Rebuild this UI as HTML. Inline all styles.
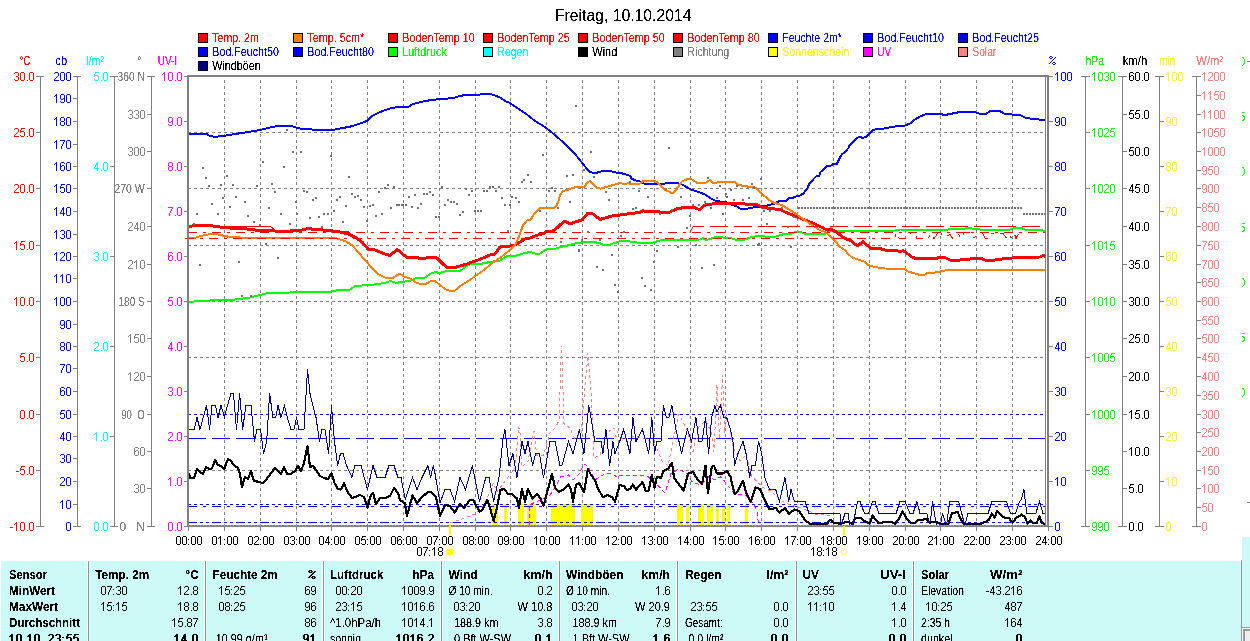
<!DOCTYPE html>
<html><head><meta charset="utf-8"><title>Freitag, 10.10.2014</title>
<style>html,body{margin:0;padding:0;background:#fff;overflow:hidden}svg{display:block}text{font-family:"Liberation Sans",sans-serif;white-space:pre}</style>
</head><body>
<svg width="1250" height="641" viewBox="0 0 1250 641" font-family="Liberation Sans, sans-serif" font-size="12" shape-rendering="crispEdges">
<rect width="1250" height="641" fill="#fff"/>
<defs><filter id="cr" x="0" y="0" width="100%" height="100%" filterUnits="userSpaceOnUse" color-interpolation-filters="sRGB"><feComponentTransfer><feFuncA type="linear" slope="6" intercept="-2.0"/></feComponentTransfer></filter><path id="g0" d="M1 0h3v1h-3zM0 1h1v1h-1zM4 1h1v1h-1zM0 2h1v1h-1zM4 2h1v1h-1zM0 3h1v1h-1zM4 3h1v1h-1zM0 4h1v1h-1zM4 4h1v1h-1zM0 5h1v1h-1zM4 5h1v1h-1zM0 6h1v1h-1zM4 6h1v1h-1zM0 7h1v1h-1zM4 7h1v1h-1zM1 8h3v1h-3z"/><path id="b0" d="M1 0h4v1h-4zM0 1h2v1h-2zM4 1h2v1h-2zM0 2h2v1h-2zM4 2h2v1h-2zM0 3h2v1h-2zM4 3h2v1h-2zM0 4h2v1h-2zM4 4h2v1h-2zM0 5h2v1h-2zM4 5h2v1h-2zM0 6h2v1h-2zM4 6h2v1h-2zM0 7h2v1h-2zM4 7h2v1h-2zM1 8h4v1h-4z"/><path id="g1" d="M2 0h1v1h-1zM1 1h2v1h-2zM0 2h1v1h-1zM2 2h1v1h-1zM2 3h1v1h-1zM2 4h1v1h-1zM2 5h1v1h-1zM2 6h1v1h-1zM2 7h1v1h-1zM2 8h1v1h-1z"/><path id="b1" d="M2 0h2v1h-2zM1 1h3v1h-3zM0 2h4v1h-4zM2 3h2v1h-2zM2 4h2v1h-2zM2 5h2v1h-2zM2 6h2v1h-2zM2 7h2v1h-2zM2 8h2v1h-2z"/><path id="g2" d="M1 0h3v1h-3zM0 1h1v1h-1zM4 1h1v1h-1zM4 2h1v1h-1zM4 3h1v1h-1zM3 4h1v1h-1zM2 5h1v1h-1zM1 6h1v1h-1zM0 7h1v1h-1zM0 8h5v1h-5z"/><path id="b2" d="M1 0h4v1h-4zM0 1h2v1h-2zM4 1h2v1h-2zM4 2h2v1h-2zM4 3h2v1h-2zM3 4h2v1h-2zM2 5h2v1h-2zM1 6h2v1h-2zM0 7h2v1h-2zM0 8h6v1h-6z"/><path id="g3" d="M1 0h3v1h-3zM0 1h1v1h-1zM4 1h1v1h-1zM4 2h1v1h-1zM4 3h1v1h-1zM2 4h2v1h-2zM4 5h1v1h-1zM4 6h1v1h-1zM0 7h1v1h-1zM4 7h1v1h-1zM1 8h3v1h-3z"/><path id="b3" d="M1 0h4v1h-4zM0 1h2v1h-2zM4 1h2v1h-2zM4 2h2v1h-2zM4 3h2v1h-2zM2 4h3v1h-3zM4 5h2v1h-2zM4 6h2v1h-2zM0 7h2v1h-2zM4 7h2v1h-2zM1 8h4v1h-4z"/><path id="g4" d="M3 0h1v1h-1zM2 1h2v1h-2zM2 2h2v1h-2zM1 3h1v1h-1zM3 3h1v1h-1zM1 4h1v1h-1zM3 4h1v1h-1zM0 5h1v1h-1zM3 5h1v1h-1zM0 6h5v1h-5zM3 7h1v1h-1zM3 8h1v1h-1z"/><path id="b4" d="M3 0h2v1h-2zM2 1h3v1h-3zM2 2h3v1h-3zM1 3h4v1h-4zM1 4h4v1h-4zM0 5h2v1h-2zM3 5h2v1h-2zM0 6h6v1h-6zM3 7h2v1h-2zM3 8h2v1h-2z"/><path id="g5" d="M1 0h4v1h-4zM1 1h1v1h-1zM0 2h1v1h-1zM0 3h4v1h-4zM0 4h1v1h-1zM4 4h1v1h-1zM4 5h1v1h-1zM4 6h1v1h-1zM0 7h1v1h-1zM4 7h1v1h-1zM1 8h3v1h-3z"/><path id="b5" d="M1 0h5v1h-5zM1 1h2v1h-2zM0 2h2v1h-2zM0 3h5v1h-5zM0 4h2v1h-2zM4 4h2v1h-2zM4 5h2v1h-2zM4 6h2v1h-2zM0 7h2v1h-2zM4 7h2v1h-2zM1 8h4v1h-4z"/><path id="g6" d="M1 0h3v1h-3zM0 1h1v1h-1zM4 1h1v1h-1zM0 2h1v1h-1zM0 3h1v1h-1zM2 3h2v1h-2zM0 4h2v1h-2zM4 4h1v1h-1zM0 5h1v1h-1zM4 5h1v1h-1zM0 6h1v1h-1zM4 6h1v1h-1zM0 7h1v1h-1zM4 7h1v1h-1zM1 8h3v1h-3z"/><path id="b6" d="M1 0h4v1h-4zM0 1h2v1h-2zM4 1h2v1h-2zM0 2h2v1h-2zM0 3h5v1h-5zM0 4h3v1h-3zM4 4h2v1h-2zM0 5h2v1h-2zM4 5h2v1h-2zM0 6h2v1h-2zM4 6h2v1h-2zM0 7h2v1h-2zM4 7h2v1h-2zM1 8h4v1h-4z"/><path id="g7" d="M0 0h5v1h-5zM4 1h1v1h-1zM3 2h1v1h-1zM3 3h1v1h-1zM2 4h1v1h-1zM2 5h1v1h-1zM1 6h1v1h-1zM1 7h1v1h-1zM1 8h1v1h-1z"/><path id="b7" d="M0 0h6v1h-6zM4 1h2v1h-2zM3 2h2v1h-2zM3 3h2v1h-2zM2 4h2v1h-2zM2 5h2v1h-2zM1 6h2v1h-2zM1 7h2v1h-2zM1 8h2v1h-2z"/><path id="g8" d="M1 0h3v1h-3zM0 1h1v1h-1zM4 1h1v1h-1zM0 2h1v1h-1zM4 2h1v1h-1zM0 3h1v1h-1zM4 3h1v1h-1zM1 4h3v1h-3zM0 5h1v1h-1zM4 5h1v1h-1zM0 6h1v1h-1zM4 6h1v1h-1zM0 7h1v1h-1zM4 7h1v1h-1zM1 8h3v1h-3z"/><path id="b8" d="M1 0h4v1h-4zM0 1h2v1h-2zM4 1h2v1h-2zM0 2h2v1h-2zM4 2h2v1h-2zM0 3h2v1h-2zM4 3h2v1h-2zM1 4h4v1h-4zM0 5h2v1h-2zM4 5h2v1h-2zM0 6h2v1h-2zM4 6h2v1h-2zM0 7h2v1h-2zM4 7h2v1h-2zM1 8h4v1h-4z"/><path id="g9" d="M1 0h3v1h-3zM0 1h1v1h-1zM4 1h1v1h-1zM0 2h1v1h-1zM4 2h1v1h-1zM0 3h1v1h-1zM4 3h1v1h-1zM0 4h1v1h-1zM3 4h2v1h-2zM1 5h2v1h-2zM4 5h1v1h-1zM4 6h1v1h-1zM0 7h1v1h-1zM4 7h1v1h-1zM1 8h3v1h-3z"/><path id="b9" d="M1 0h4v1h-4zM0 1h2v1h-2zM4 1h2v1h-2zM0 2h2v1h-2zM4 2h2v1h-2zM0 3h2v1h-2zM4 3h2v1h-2zM0 4h2v1h-2zM3 4h3v1h-3zM1 5h5v1h-5zM4 6h2v1h-2zM0 7h2v1h-2zM4 7h2v1h-2zM1 8h4v1h-4z"/><path id="gp" d="M1 8h1v1h-1z"/><path id="bp" d="M1 8h2v1h-2z"/><path id="gc" d="M0 3h1v1h-1zM0 8h1v1h-1z"/><path id="bc" d="M0 3h2v1h-2zM0 8h2v1h-2z"/><path id="gm" d="M0 5h3v1h-3z"/><path id="bm" d="M0 5h4v1h-4z"/><path id="gq" d="M1 0h2v1h-2zM0 1h1v1h-1zM3 1h1v1h-1zM6 1h1v1h-1zM1 2h2v1h-2zM5 2h1v1h-1zM4 3h1v1h-1zM3 4h1v1h-1zM2 5h1v1h-1zM1 6h1v1h-1zM4 6h2v1h-2zM0 7h1v1h-1zM3 7h1v1h-1zM6 7h1v1h-1zM4 8h2v1h-2z"/><path id="bq" d="M1 0h3v1h-3zM0 1h2v1h-2zM3 1h2v1h-2zM6 1h2v1h-2zM1 2h3v1h-3zM5 2h2v1h-2zM4 3h2v1h-2zM3 4h2v1h-2zM2 5h2v1h-2zM1 6h2v1h-2zM4 6h3v1h-3zM0 7h2v1h-2zM3 7h2v1h-2zM6 7h2v1h-2zM4 8h3v1h-3z"/></defs>
<rect x="198.5" y="33.5" width="9" height="9" fill="#f00" stroke="#000" stroke-width="1"/>
<rect x="293.5" y="33.5" width="9" height="9" fill="#ff8000" stroke="#000" stroke-width="1"/>
<rect x="388.5" y="33.5" width="9" height="9" fill="#f00" stroke="#000" stroke-width="1"/>
<rect x="483.5" y="33.5" width="9" height="9" fill="#f00" stroke="#000" stroke-width="1"/>
<rect x="578.5" y="33.5" width="9" height="9" fill="#f00" stroke="#000" stroke-width="1"/>
<rect x="673.5" y="33.5" width="9" height="9" fill="#f00" stroke="#000" stroke-width="1"/>
<rect x="768.5" y="33.5" width="9" height="9" fill="#00f" stroke="#000" stroke-width="1"/>
<rect x="863.5" y="33.5" width="9" height="9" fill="#00f" stroke="#000" stroke-width="1"/>
<rect x="958.5" y="33.5" width="9" height="9" fill="#00f" stroke="#000" stroke-width="1"/>
<rect x="198.5" y="47.5" width="9" height="9" fill="#00f" stroke="#000" stroke-width="1"/>
<rect x="293.5" y="47.5" width="9" height="9" fill="#00f" stroke="#000" stroke-width="1"/>
<rect x="388.5" y="47.5" width="9" height="9" fill="#0f0" stroke="#000" stroke-width="1"/>
<rect x="483.5" y="47.5" width="9" height="9" fill="#0ff" stroke="#000" stroke-width="1"/>
<rect x="578.5" y="47.5" width="9" height="9" fill="#000" stroke="#000" stroke-width="1"/>
<rect x="673.5" y="47.5" width="9" height="9" fill="#808080" stroke="#000" stroke-width="1"/>
<rect x="768.5" y="47.5" width="9" height="9" fill="#ff0" stroke="#000" stroke-width="1"/>
<rect x="863.5" y="47.5" width="9" height="9" fill="#f0f" stroke="#000" stroke-width="1"/>
<rect x="958.5" y="47.5" width="9" height="9" fill="#ff8080" stroke="#000" stroke-width="1"/>
<rect x="198.5" y="61.5" width="9" height="9" fill="#000080" stroke="#000" stroke-width="1"/>
<line x1="224.5" y1="80" x2="224.5" y2="525" stroke="#808080" stroke-width="1" stroke-dasharray="3 3"/>
<line x1="260.5" y1="80" x2="260.5" y2="525" stroke="#808080" stroke-width="1" stroke-dasharray="3 3"/>
<line x1="296.5" y1="80" x2="296.5" y2="525" stroke="#808080" stroke-width="1" stroke-dasharray="3 3"/>
<line x1="331.5" y1="80" x2="331.5" y2="525" stroke="#808080" stroke-width="1" stroke-dasharray="3 3"/>
<line x1="367.5" y1="80" x2="367.5" y2="525" stroke="#808080" stroke-width="1" stroke-dasharray="3 3"/>
<line x1="403.5" y1="80" x2="403.5" y2="525" stroke="#808080" stroke-width="1" stroke-dasharray="3 3"/>
<line x1="439.5" y1="80" x2="439.5" y2="525" stroke="#808080" stroke-width="1" stroke-dasharray="3 3"/>
<line x1="475.5" y1="80" x2="475.5" y2="525" stroke="#808080" stroke-width="1" stroke-dasharray="3 3"/>
<line x1="510.5" y1="80" x2="510.5" y2="525" stroke="#808080" stroke-width="1" stroke-dasharray="3 3"/>
<line x1="546.5" y1="80" x2="546.5" y2="525" stroke="#808080" stroke-width="1" stroke-dasharray="3 3"/>
<line x1="582.5" y1="80" x2="582.5" y2="525" stroke="#808080" stroke-width="1" stroke-dasharray="3 3"/>
<line x1="618.5" y1="80" x2="618.5" y2="525" stroke="#808080" stroke-width="1" stroke-dasharray="3 3"/>
<line x1="654.5" y1="80" x2="654.5" y2="525" stroke="#808080" stroke-width="1" stroke-dasharray="3 3"/>
<line x1="690.5" y1="80" x2="690.5" y2="525" stroke="#808080" stroke-width="1" stroke-dasharray="3 3"/>
<line x1="725.5" y1="80" x2="725.5" y2="525" stroke="#808080" stroke-width="1" stroke-dasharray="3 3"/>
<line x1="761.5" y1="80" x2="761.5" y2="525" stroke="#808080" stroke-width="1" stroke-dasharray="3 3"/>
<line x1="797.5" y1="80" x2="797.5" y2="525" stroke="#808080" stroke-width="1" stroke-dasharray="3 3"/>
<line x1="833.5" y1="80" x2="833.5" y2="525" stroke="#808080" stroke-width="1" stroke-dasharray="3 3"/>
<line x1="869.5" y1="80" x2="869.5" y2="525" stroke="#808080" stroke-width="1" stroke-dasharray="3 3"/>
<line x1="905.5" y1="80" x2="905.5" y2="525" stroke="#808080" stroke-width="1" stroke-dasharray="3 3"/>
<line x1="940.5" y1="80" x2="940.5" y2="525" stroke="#808080" stroke-width="1" stroke-dasharray="3 3"/>
<line x1="976.5" y1="80" x2="976.5" y2="525" stroke="#808080" stroke-width="1" stroke-dasharray="3 3"/>
<line x1="1012.5" y1="80" x2="1012.5" y2="525" stroke="#808080" stroke-width="1" stroke-dasharray="3 3"/>
<line x1="188" y1="132.5" x2="1045" y2="132.5" stroke="#808080" stroke-width="1" stroke-dasharray="3 3"/>
<line x1="188" y1="188.5" x2="1045" y2="188.5" stroke="#808080" stroke-width="1" stroke-dasharray="3 3"/>
<line x1="188" y1="245.5" x2="1045" y2="245.5" stroke="#808080" stroke-width="1" stroke-dasharray="3 3"/>
<line x1="188" y1="301.5" x2="1045" y2="301.5" stroke="#808080" stroke-width="1" stroke-dasharray="3 3"/>
<line x1="188" y1="357.5" x2="1045" y2="357.5" stroke="#808080" stroke-width="1" stroke-dasharray="3 3"/>
<line x1="188" y1="414.5" x2="1045" y2="414.5" stroke="#808080" stroke-width="1" stroke-dasharray="3 3"/>
<line x1="188" y1="470.5" x2="1045" y2="470.5" stroke="#808080" stroke-width="1" stroke-dasharray="3 3"/>
<rect x="492" y="504" width="6" height="22" fill="#ff0"/>
<rect x="504" y="504" width="3" height="22" fill="#ff0"/>
<rect x="518" y="504" width="6" height="22" fill="#ff0"/>
<rect x="527" y="504" width="9" height="22" fill="#ff0"/>
<rect x="551" y="504" width="24" height="22" fill="#ff0"/>
<rect x="581" y="504" width="12" height="22" fill="#ff0"/>
<rect x="677" y="504" width="6" height="22" fill="#ff0"/>
<rect x="686" y="504" width="3" height="22" fill="#ff0"/>
<rect x="698" y="504" width="6" height="22" fill="#ff0"/>
<rect x="707" y="504" width="6" height="22" fill="#ff0"/>
<rect x="716" y="504" width="3" height="22" fill="#ff0"/>
<rect x="722" y="504" width="3" height="22" fill="#ff0"/>
<rect x="727" y="504" width="3" height="22" fill="#ff0"/>
<rect x="745" y="504" width="3" height="22" fill="#ff0"/>
<polyline points="189.0,134.0 206.5,134.0 210.0,136.0 215.0,136.8 222.0,136.2 232.0,134.5 245.0,132.5 260.0,130.0 268.0,128.0 275.0,126.5 283.0,125.8 292.0,126.0 297.0,128.0 303.0,129.0 315.0,129.7 332.0,130.0 340.0,128.5 350.0,126.7 360.0,123.5 367.0,121.0 372.0,116.0 378.0,113.0 385.0,110.0 392.0,108.0 398.0,107.0 409.0,106.5 413.0,104.0 419.0,102.5 425.0,101.0 432.0,100.0 440.0,99.0 448.0,98.5 455.0,97.5 460.0,96.0 465.0,95.0 472.0,94.8 480.0,94.5 485.0,93.9 490.0,93.7 495.0,95.5 500.0,97.5 505.0,101.0 510.0,103.0 515.0,106.5 520.0,110.0 525.0,113.0 530.0,117.0 535.0,121.0 540.0,124.0 545.0,127.0 550.0,131.0 555.0,135.0 560.0,139.5 565.0,144.0 570.0,149.0 575.0,154.0 579.0,159.0 583.0,164.0 587.0,169.0 590.0,172.0 595.0,173.5 599.0,172.0 603.0,171.0 608.0,171.0 612.0,171.5 615.0,172.4 620.0,173.0 625.0,174.0 630.0,176.0 632.0,179.0 636.0,180.5 640.0,181.5 645.0,184.0 652.0,184.3 660.0,184.5 668.0,183.0 678.0,183.0 683.0,185.0 690.0,189.0 695.0,191.0 700.0,192.5 706.0,195.0 710.0,198.0 715.0,200.5 720.0,201.5 727.0,202.5 732.0,205.0 737.0,206.5 740.0,208.5 748.0,208.5 755.0,207.0 765.0,206.0 775.0,203.5 780.0,200.7 786.7,200.7 788.0,198.5 792.6,198.2 794.8,196.7 799.3,195.9 803.7,193.3 807.4,188.0 808.9,184.4 814.0,178.5 816.3,176.3 819.3,175.6 820.0,172.6 826.7,166.0 831.0,165.6 833.3,164.0 837.0,163.7 841.5,154.8 845.0,151.9 849.0,147.4 849.6,145.0 858.5,137.0 860.7,137.0 862.2,138.0 866.0,137.0 872.6,130.4 876.3,129.2 883.7,128.6 886.0,127.7 890.4,127.4 892.6,126.7 900.0,126.0 905.0,125.5 910.0,123.5 915.0,119.5 920.0,116.5 925.0,114.5 930.0,114.0 940.0,114.0 945.0,115.0 950.0,114.0 955.0,113.0 960.0,112.0 968.0,112.0 975.0,112.0 980.0,114.0 985.0,114.5 988.0,112.5 990.0,111.0 995.0,110.5 1000.0,111.0 1003.0,113.0 1005.0,114.0 1012.0,114.5 1018.0,114.5 1022.0,116.0 1025.0,117.5 1030.0,118.5 1035.0,119.0 1040.0,119.7 1046.0,120.0" fill="none" stroke="#00f" stroke-width="2" stroke-linejoin="round"/>
<line x1="188" y1="414.5" x2="1045" y2="414.5" stroke="#00f" stroke-width="1" stroke-dasharray="3 3"/>
<line x1="188" y1="438.5" x2="1045" y2="438.5" stroke="#00f" stroke-width="1" stroke-dasharray="18 6"/>
<line x1="188" y1="504.5" x2="1045" y2="504.5" stroke="#00f" stroke-width="1" stroke-dasharray="3 3"/>
<line x1="188" y1="506.5" x2="1045" y2="506.5" stroke="#00f" stroke-width="1" stroke-dasharray="9 6 3 6"/>
<line x1="188" y1="522.5" x2="1045" y2="522.5" stroke="#00f" stroke-width="1" stroke-dasharray="9 3 3 3 3 3"/>
<polyline points="189.0,302.0 200.0,301.0 210.0,300.5 230.0,300.0 240.0,299.0 250.0,297.5 260.0,295.0 268.0,293.0 290.0,292.5 330.0,292.0 340.0,289.5 350.0,289.5 355.0,286.0 370.0,285.0 385.0,283.0 390.0,281.0 397.0,283.0 400.0,282.0 410.0,281.0 415.0,278.5 425.0,277.5 430.0,274.0 435.0,272.0 440.0,273.0 445.0,271.5 460.0,271.0 465.0,267.0 470.0,264.5 480.0,264.0 490.0,262.0 500.0,260.5 505.0,257.0 510.0,255.5 515.0,256.0 520.0,254.5 525.0,253.0 530.0,252.0 535.0,253.5 540.0,253.5 545.0,250.0 550.0,248.5 555.0,249.0 560.0,247.0 570.0,245.0 575.0,243.5 580.0,243.0 585.0,241.5 595.0,241.5 598.0,243.5 600.0,243.0 603.0,245.0 610.0,244.5 615.0,243.0 622.0,240.5 630.0,241.5 640.0,243.0 650.0,243.5 655.0,242.0 660.0,240.5 680.0,240.0 700.0,239.5 703.0,238.0 706.0,240.0 710.0,239.0 716.0,237.0 730.0,238.0 735.0,239.5 745.0,239.5 750.0,237.5 757.0,236.0 765.0,236.5 775.0,237.0 780.0,235.0 785.0,234.0 790.0,234.5 795.0,232.0 800.0,231.5 805.0,234.0 825.0,234.0 830.0,231.0 850.0,231.0 895.0,230.5 900.0,229.5 945.0,230.5 950.0,229.0 965.0,228.5 967.0,227.5 975.0,229.0 990.0,230.5 1000.0,230.0 1010.0,229.5 1015.0,228.0 1020.0,227.5 1025.0,229.5 1040.0,230.0 1046.0,231.0" fill="none" stroke="#0f0" stroke-width="2" stroke-linejoin="round"/>
<polyline points="225.0,226.5 270.0,226.5 274.0,229.0" fill="none" stroke="#f00" stroke-width="1" />
<polyline points="330.0,231.5 348.0,231.5 353.0,237.0" fill="none" stroke="#f00" stroke-width="1" />
<polyline points="189.0,226.2 200.0,225.5 210.0,225.5 220.0,227.0 230.0,228.0 240.0,228.0 250.0,229.5 260.0,230.5 275.0,231.0 290.0,231.0 300.0,230.5 308.0,228.5 315.0,229.5 330.0,230.5 340.0,232.0 348.0,234.0 355.0,237.0 362.0,242.0 368.0,249.0 375.0,250.0 380.0,252.0 385.0,254.0 390.0,255.5 397.0,249.5 400.0,251.5 405.0,256.0 408.0,258.0 415.0,257.0 422.0,259.0 430.0,257.0 437.0,258.0 443.0,264.0 448.0,268.0 455.0,267.5 460.0,266.0 467.0,264.0 472.0,262.0 478.0,260.0 483.0,258.0 490.0,255.0 495.0,254.0 500.0,247.0 505.0,246.5 510.0,246.0 515.0,245.0 520.0,242.0 525.0,239.0 530.0,238.0 535.0,236.0 540.0,234.5 545.0,233.0 546.0,231.0 553.0,231.0 557.0,228.0 560.0,225.0 565.0,221.0 570.0,224.0 575.0,222.0 582.0,220.0 588.0,213.0 593.0,214.0 597.0,217.0 600.0,219.5 605.0,218.0 612.0,216.0 615.0,215.5 620.0,215.0 630.0,213.5 640.0,212.5 643.0,210.5 646.0,212.0 655.0,211.0 660.0,212.0 668.0,213.0 672.0,211.0 678.0,208.5 685.0,207.5 693.0,207.0 698.0,209.0 700.0,209.5 705.0,205.0 712.0,204.0 725.0,203.0 735.0,203.5 745.0,204.0 757.0,204.5 762.0,207.0 770.0,208.5 780.0,209.5 785.0,212.0 790.0,214.0 795.0,216.0 805.0,220.0 815.0,224.0 825.0,229.0 830.0,229.0 835.0,231.0 840.0,235.0 845.0,238.5 850.0,240.0 855.0,244.5 858.0,245.5 863.0,241.5 868.0,246.0 872.0,249.0 880.0,248.5 885.0,250.0 890.0,250.5 897.0,250.5 900.0,252.0 903.0,250.5 908.0,254.0 912.0,257.0 917.0,259.0 925.0,258.5 935.0,259.0 940.0,257.0 945.0,257.5 950.0,260.0 960.0,260.0 965.0,259.5 975.0,258.5 980.0,258.0 985.0,260.0 995.0,260.0 1005.0,258.5 1020.0,257.5 1040.0,257.0 1043.0,255.5 1046.0,256.5" fill="none" stroke="#f00" stroke-width="3" stroke-linejoin="round"/>
<polyline points="189.0,238.5 195.0,238.0 200.0,236.0 208.0,234.5 213.0,233.5 220.0,235.0 230.0,237.0 240.0,237.5 330.0,237.5 337.0,238.5 345.0,241.0 352.0,245.0 358.0,252.0 365.0,260.0 372.0,268.0 378.0,274.0 385.0,277.5 392.0,278.5 397.0,275.0 400.0,274.0 405.0,277.0 410.0,278.5 415.0,282.0 420.0,284.0 425.0,284.5 430.0,281.5 435.0,281.0 440.0,285.0 445.0,289.0 450.0,291.0 455.0,290.5 460.0,286.0 465.0,283.0 470.0,280.0 475.0,276.0 480.0,273.0 485.0,269.0 490.0,265.0 495.0,261.0 500.0,258.0 505.0,254.0 510.0,250.0 515.0,245.0 518.0,239.0 521.0,231.0 523.0,225.0 527.0,220.5 531.0,219.5 534.0,214.0 539.5,208.4 555.0,207.5 558.0,203.0 560.0,195.0 563.0,191.0 568.5,189.6 574.0,187.4 584.5,187.0 587.0,182.7 590.0,180.8 593.0,183.6 595.7,187.0 600.4,188.7 606.0,187.0 613.5,185.0 615.0,184.5 620.0,183.0 625.0,184.5 628.0,183.0 632.0,184.5 640.0,183.5 643.0,181.0 655.0,181.0 658.0,183.0 662.0,187.0 665.0,190.0 670.0,192.0 672.0,193.5 676.0,190.0 678.0,187.0 680.0,184.0 682.0,181.5 685.0,180.0 690.0,178.5 693.0,180.0 697.0,183.0 705.0,183.0 710.0,180.0 713.0,183.0 717.0,182.5 735.0,182.0 738.0,185.0 745.0,186.0 750.0,187.0 755.0,187.5 758.0,190.0 762.0,194.0 768.0,199.0 772.0,202.0 778.0,204.0 782.0,205.0 788.0,209.0 795.0,213.0 800.0,217.0 805.0,220.0 810.0,224.0 815.0,227.0 820.0,230.0 825.0,232.0 830.0,236.0 835.0,241.0 840.0,247.0 845.0,250.0 848.0,254.0 853.0,258.0 860.0,260.0 865.0,262.0 868.0,265.0 875.0,267.0 885.0,268.5 905.0,269.0 908.0,271.5 915.0,273.5 920.0,275.0 925.0,274.5 928.0,272.5 932.0,273.5 937.0,272.0 945.0,270.5 947.0,270.0 1046.0,270.0" fill="none" stroke="#ff8000" stroke-width="2" stroke-linejoin="round"/>
<line x1="188" y1="232.5" x2="1045" y2="232.5" stroke="#f00" stroke-width="1" stroke-dasharray="9 6 3 6"/>
<polyline points="185.0,238.5 894.6,238.5 896.5,232.8 899.3,238.5 908.0,238.5 910.5,232.8 914.3,232.8 917.0,238.5 928.0,238.5 931.0,233.5 934.0,238.5 937.7,233.3 939.5,237.4 941.4,234.0 944.0,237.4 950.0,234.6 952.6,238.4 955.5,234.6 959.0,235.0 961.0,238.4 964.0,232.8 972.0,232.8 974.0,237.4 982.6,233.3 985.4,238.4 988.0,238.4 991.0,233.3 1003.0,233.3 1006.0,237.4 1009.0,234.0 1011.6,238.4 1014.5,234.0 1016.0,238.4 1019.0,232.8" fill="none" stroke="#f00" stroke-width="1" stroke-dasharray="9 6 3 6"/>
<polyline points="690.0,232.5 693.0,226.5" fill="none" stroke="#f00" stroke-width="1" shape-rendering="auto"/>
<polyline points="827.0,232.5 831.5,226.5" fill="none" stroke="#f00" stroke-width="1" shape-rendering="auto"/>
<line x1="693" y1="226.5" x2="704" y2="226.5" stroke="#f00" stroke-width="1"/>
<line x1="710" y1="226.5" x2="1040" y2="226.5" stroke="#f00" stroke-width="1" stroke-dasharray="18 6"/>
<rect x="208" y="185" width="2" height="2" fill="#707070"/>
<rect x="256" y="185" width="2" height="2" fill="#707070"/>
<rect x="384" y="187" width="2" height="2" fill="#707070"/>
<rect x="393" y="186" width="2" height="2" fill="#707070"/>
<rect x="274" y="191" width="2" height="2" fill="#707070"/>
<rect x="303" y="190" width="2" height="2" fill="#707070"/>
<rect x="306" y="191" width="2" height="2" fill="#707070"/>
<rect x="378" y="191" width="2" height="2" fill="#707070"/>
<rect x="222" y="197" width="2" height="2" fill="#707070"/>
<rect x="235" y="196" width="2" height="2" fill="#707070"/>
<rect x="244" y="201" width="2" height="2" fill="#707070"/>
<rect x="211" y="203" width="2" height="2" fill="#707070"/>
<rect x="229" y="206" width="2" height="2" fill="#707070"/>
<rect x="268" y="207" width="2" height="2" fill="#707070"/>
<rect x="196" y="213" width="2" height="2" fill="#707070"/>
<rect x="217" y="213" width="2" height="2" fill="#707070"/>
<rect x="247" y="215" width="2" height="2" fill="#707070"/>
<rect x="280" y="213" width="2" height="2" fill="#707070"/>
<rect x="296" y="213" width="2" height="2" fill="#707070"/>
<rect x="295" y="201" width="2" height="2" fill="#707070"/>
<rect x="312" y="199" width="2" height="2" fill="#707070"/>
<rect x="315" y="197" width="2" height="2" fill="#707070"/>
<rect x="309" y="217" width="2" height="2" fill="#707070"/>
<rect x="318" y="216" width="2" height="2" fill="#707070"/>
<rect x="323" y="213" width="2" height="2" fill="#707070"/>
<rect x="327" y="213" width="2" height="2" fill="#707070"/>
<rect x="333" y="210" width="2" height="2" fill="#707070"/>
<rect x="336" y="199" width="2" height="2" fill="#707070"/>
<rect x="339" y="196" width="2" height="2" fill="#707070"/>
<rect x="345" y="205" width="2" height="2" fill="#707070"/>
<rect x="351" y="193" width="2" height="2" fill="#707070"/>
<rect x="354" y="196" width="2" height="2" fill="#707070"/>
<rect x="357" y="195" width="2" height="2" fill="#707070"/>
<rect x="360" y="199" width="2" height="2" fill="#707070"/>
<rect x="363" y="206" width="2" height="2" fill="#707070"/>
<rect x="369" y="205" width="2" height="2" fill="#707070"/>
<rect x="372" y="204" width="2" height="2" fill="#707070"/>
<rect x="375" y="215" width="2" height="2" fill="#707070"/>
<rect x="381" y="213" width="2" height="2" fill="#707070"/>
<rect x="390" y="207" width="2" height="2" fill="#707070"/>
<rect x="396" y="204" width="2" height="2" fill="#707070"/>
<rect x="398" y="204" width="2" height="2" fill="#707070"/>
<rect x="401" y="204" width="2" height="2" fill="#707070"/>
<rect x="366" y="220" width="2" height="2" fill="#707070"/>
<rect x="342" y="221" width="2" height="2" fill="#707070"/>
<rect x="321" y="226" width="2" height="2" fill="#707070"/>
<rect x="289" y="223" width="2" height="2" fill="#707070"/>
<rect x="253" y="221" width="2" height="2" fill="#707070"/>
<rect x="259" y="224" width="2" height="2" fill="#707070"/>
<rect x="193" y="223" width="2" height="2" fill="#707070"/>
<rect x="265" y="243" width="2" height="2" fill="#707070"/>
<rect x="277" y="257" width="2" height="2" fill="#707070"/>
<rect x="238" y="261" width="2" height="2" fill="#707070"/>
<rect x="199" y="264" width="2" height="2" fill="#707070"/>
<rect x="241" y="295" width="2" height="2" fill="#707070"/>
<rect x="250" y="295" width="2" height="2" fill="#707070"/>
<rect x="408" y="196" width="2" height="2" fill="#707070"/>
<rect x="414" y="194" width="2" height="2" fill="#707070"/>
<rect x="423" y="193" width="2" height="2" fill="#707070"/>
<rect x="426" y="193" width="2" height="2" fill="#707070"/>
<rect x="429" y="191" width="2" height="2" fill="#707070"/>
<rect x="432" y="194" width="2" height="2" fill="#707070"/>
<rect x="441" y="186" width="2" height="2" fill="#707070"/>
<rect x="402" y="204" width="2" height="2" fill="#707070"/>
<rect x="405" y="204" width="2" height="2" fill="#707070"/>
<rect x="411" y="206" width="2" height="2" fill="#707070"/>
<rect x="417" y="207" width="2" height="2" fill="#707070"/>
<rect x="420" y="203" width="2" height="2" fill="#707070"/>
<rect x="435" y="216" width="2" height="2" fill="#707070"/>
<rect x="438" y="216" width="2" height="2" fill="#707070"/>
<rect x="444" y="204" width="2" height="2" fill="#707070"/>
<rect x="447" y="199" width="2" height="2" fill="#707070"/>
<rect x="450" y="201" width="2" height="2" fill="#707070"/>
<rect x="453" y="201" width="2" height="2" fill="#707070"/>
<rect x="456" y="203" width="2" height="2" fill="#707070"/>
<rect x="459" y="214" width="2" height="2" fill="#707070"/>
<rect x="462" y="211" width="2" height="2" fill="#707070"/>
<rect x="465" y="188" width="2" height="2" fill="#707070"/>
<rect x="468" y="194" width="2" height="2" fill="#707070"/>
<rect x="471" y="190" width="2" height="2" fill="#707070"/>
<rect x="474" y="210" width="2" height="2" fill="#707070"/>
<rect x="477" y="210" width="2" height="2" fill="#707070"/>
<rect x="480" y="210" width="2" height="2" fill="#707070"/>
<rect x="483" y="190" width="2" height="2" fill="#707070"/>
<rect x="486" y="190" width="2" height="2" fill="#707070"/>
<rect x="489" y="186" width="2" height="2" fill="#707070"/>
<rect x="492" y="186" width="2" height="2" fill="#707070"/>
<rect x="495" y="190" width="2" height="2" fill="#707070"/>
<rect x="498" y="186" width="2" height="2" fill="#707070"/>
<rect x="501" y="197" width="2" height="2" fill="#707070"/>
<rect x="504" y="204" width="2" height="2" fill="#707070"/>
<rect x="507" y="230" width="2" height="2" fill="#707070"/>
<rect x="509" y="204" width="2" height="2" fill="#707070"/>
<rect x="511" y="196" width="2" height="2" fill="#707070"/>
<rect x="515" y="197" width="2" height="2" fill="#707070"/>
<rect x="518" y="201" width="2" height="2" fill="#707070"/>
<rect x="548" y="190" width="2" height="2" fill="#707070"/>
<rect x="551" y="187" width="2" height="2" fill="#707070"/>
<rect x="554" y="190" width="2" height="2" fill="#707070"/>
<rect x="557" y="207" width="2" height="2" fill="#707070"/>
<rect x="560" y="241" width="2" height="2" fill="#707070"/>
<rect x="569" y="201" width="2" height="2" fill="#707070"/>
<rect x="578" y="249" width="2" height="2" fill="#707070"/>
<rect x="581" y="239" width="2" height="2" fill="#707070"/>
<rect x="587" y="231" width="2" height="2" fill="#707070"/>
<rect x="596" y="266" width="2" height="2" fill="#707070"/>
<rect x="599" y="239" width="2" height="2" fill="#707070"/>
<rect x="602" y="269" width="2" height="2" fill="#707070"/>
<rect x="605" y="191" width="2" height="2" fill="#707070"/>
<rect x="608" y="199" width="2" height="2" fill="#707070"/>
<rect x="611" y="254" width="2" height="2" fill="#707070"/>
<rect x="614" y="284" width="2" height="2" fill="#707070"/>
<rect x="617" y="291" width="2" height="2" fill="#707070"/>
<rect x="539" y="210" width="2" height="2" fill="#707070"/>
<rect x="638" y="190" width="2" height="2" fill="#707070"/>
<rect x="647" y="196" width="2" height="2" fill="#707070"/>
<rect x="632" y="208" width="2" height="2" fill="#707070"/>
<rect x="635" y="207" width="2" height="2" fill="#707070"/>
<rect x="620" y="235" width="2" height="2" fill="#707070"/>
<rect x="623" y="231" width="2" height="2" fill="#707070"/>
<rect x="656" y="250" width="2" height="2" fill="#707070"/>
<rect x="653" y="261" width="2" height="2" fill="#707070"/>
<rect x="659" y="213" width="2" height="2" fill="#707070"/>
<rect x="665" y="188" width="2" height="2" fill="#707070"/>
<rect x="671" y="209" width="2" height="2" fill="#707070"/>
<rect x="680" y="196" width="2" height="2" fill="#707070"/>
<rect x="677" y="246" width="2" height="2" fill="#707070"/>
<rect x="686" y="227" width="2" height="2" fill="#707070"/>
<rect x="689" y="215" width="2" height="2" fill="#707070"/>
<rect x="692" y="204" width="2" height="2" fill="#707070"/>
<rect x="695" y="244" width="2" height="2" fill="#707070"/>
<rect x="698" y="204" width="2" height="2" fill="#707070"/>
<rect x="701" y="267" width="2" height="2" fill="#707070"/>
<rect x="704" y="201" width="2" height="2" fill="#707070"/>
<rect x="707" y="177" width="2" height="2" fill="#707070"/>
<rect x="710" y="207" width="2" height="2" fill="#707070"/>
<rect x="713" y="264" width="2" height="2" fill="#707070"/>
<rect x="716" y="197" width="2" height="2" fill="#707070"/>
<rect x="719" y="185" width="2" height="2" fill="#707070"/>
<rect x="722" y="213" width="2" height="2" fill="#707070"/>
<rect x="725" y="193" width="2" height="2" fill="#707070"/>
<rect x="726" y="196" width="2" height="2" fill="#707070"/>
<rect x="730" y="189" width="2" height="2" fill="#707070"/>
<rect x="733" y="199" width="2" height="2" fill="#707070"/>
<rect x="742" y="199" width="2" height="2" fill="#707070"/>
<rect x="748" y="197" width="2" height="2" fill="#707070"/>
<rect x="751" y="183" width="2" height="2" fill="#707070"/>
<rect x="753" y="186" width="2" height="2" fill="#707070"/>
<rect x="757" y="244" width="2" height="2" fill="#707070"/>
<rect x="760" y="178" width="2" height="2" fill="#707070"/>
<rect x="763" y="210" width="2" height="2" fill="#707070"/>
<rect x="766" y="223" width="2" height="2" fill="#707070"/>
<rect x="769" y="210" width="2" height="2" fill="#707070"/>
<rect x="781" y="207" width="2" height="2" fill="#707070"/>
<rect x="787" y="226" width="2" height="2" fill="#707070"/>
<rect x="790" y="246" width="2" height="2" fill="#707070"/>
<rect x="793" y="216" width="2" height="2" fill="#707070"/>
<rect x="560" y="241" width="2" height="2" fill="#707070"/>
<rect x="578" y="250" width="2" height="2" fill="#707070"/>
<rect x="596" y="266" width="2" height="2" fill="#707070"/>
<rect x="611" y="254" width="2" height="2" fill="#707070"/>
<rect x="641" y="277" width="2" height="2" fill="#707070"/>
<rect x="644" y="285" width="2" height="2" fill="#707070"/>
<rect x="650" y="289" width="2" height="2" fill="#707070"/>
<rect x="653" y="261" width="2" height="2" fill="#707070"/>
<rect x="656" y="250" width="2" height="2" fill="#707070"/>
<rect x="677" y="246" width="2" height="2" fill="#707070"/>
<rect x="701" y="267" width="2" height="2" fill="#707070"/>
<rect x="713" y="264" width="2" height="2" fill="#707070"/>
<rect x="758" y="243" width="2" height="2" fill="#707070"/>
<rect x="286" y="129" width="2" height="2" fill="#707070"/>
<rect x="292" y="151" width="2" height="2" fill="#707070"/>
<rect x="300" y="151" width="2" height="2" fill="#707070"/>
<rect x="330" y="155" width="2" height="2" fill="#707070"/>
<rect x="262" y="161" width="2" height="2" fill="#707070"/>
<rect x="283" y="166" width="2" height="2" fill="#707070"/>
<rect x="202" y="167" width="2" height="2" fill="#707070"/>
<rect x="205" y="177" width="2" height="2" fill="#707070"/>
<rect x="226" y="175" width="2" height="2" fill="#707070"/>
<rect x="220" y="184" width="2" height="2" fill="#707070"/>
<rect x="232" y="184" width="2" height="2" fill="#707070"/>
<rect x="271" y="183" width="2" height="2" fill="#707070"/>
<rect x="348" y="176" width="2" height="2" fill="#707070"/>
<rect x="387" y="184" width="2" height="2" fill="#707070"/>
<rect x="575" y="105" width="2" height="2" fill="#707070"/>
<rect x="590" y="151" width="2" height="2" fill="#707070"/>
<rect x="542" y="154" width="2" height="2" fill="#707070"/>
<rect x="527" y="174" width="2" height="2" fill="#707070"/>
<rect x="523" y="179" width="2" height="2" fill="#707070"/>
<rect x="521" y="181" width="2" height="2" fill="#707070"/>
<rect x="530" y="181" width="2" height="2" fill="#707070"/>
<rect x="566" y="175" width="2" height="2" fill="#707070"/>
<rect x="572" y="174" width="2" height="2" fill="#707070"/>
<rect x="583" y="169" width="2" height="2" fill="#707070"/>
<rect x="593" y="176" width="2" height="2" fill="#707070"/>
<rect x="668" y="147" width="2" height="2" fill="#707070"/>
<rect x="629" y="181" width="2" height="2" fill="#707070"/>
<rect x="736" y="185" width="2" height="2" fill="#707070"/>
<line x1="798" y1="208" x2="1022" y2="208" stroke="#707070" stroke-width="2" stroke-dasharray="2 1"/>
<line x1="1023" y1="214" x2="1045" y2="214" stroke="#707070" stroke-width="2" stroke-dasharray="2 1"/>
<polyline points="529.5,525.0 529.5,505.0 550.0,495.0 556.0,486.0 560.7,476.7 568.5,475.0 573.0,480.0 579.4,473.5 584.0,464.0 588.0,465.7 591.0,472.0 595.0,480.0 600.0,476.7 606.0,473.0 612.0,473.5 618.4,478.0 615.0,476.0 646.0,475.0 655.6,483.0 665.0,493.0 671.0,473.5 679.0,469.0 687.0,473.5 693.0,483.0 701.0,484.5 708.6,476.7 715.0,480.0 721.0,476.7 727.0,484.5 735.0,494.0 746.0,495.4 754.0,504.8 757.0,511.0 758.5,525.0" fill="none" stroke="#f0f" stroke-width="1" stroke-dasharray="4 3"/>
<polyline points="450.0,523.0 462.0,519.0 475.0,514.0 484.0,505.0 493.6,483.0 497.0,492.0 506.0,480.0 515.5,467.0 518.6,426.7 520.0,433.0 521.7,467.0 528.0,461.0 534.0,431.4 536.7,455.0 543.5,455.0 550.0,433.0 556.0,426.7 559.0,420.5 561.6,345.6 564.0,423.6 570.0,428.0 574.7,439.0 581.0,433.0 584.0,398.6 588.0,353.4 591.0,392.0 594.0,458.0 600.0,455.0 606.0,436.0 612.0,428.0 618.4,430.0 615.0,436.0 624.0,439.0 635.0,436.0 646.0,439.0 655.6,445.5 662.0,461.0 668.0,465.7 674.0,436.0 679.0,414.0 687.0,430.0 693.0,451.7 699.0,426.7 705.5,420.5 711.7,433.0 714.0,451.7 717.0,384.6 719.5,439.0 722.6,375.0 724.5,433.0 726.7,414.0 730.5,433.0 733.6,448.6 740.0,461.0 746.0,455.0 752.0,476.7 758.5,483.0 764.8,489.0 771.0,490.7 780.0,500.0 790.0,505.0 802.0,508.0 815.0,514.0 833.0,516.0" fill="none" stroke="#ff8080" stroke-width="1" stroke-dasharray="3 3"/>
<polyline points="189.0,472.7 190.0,478.0 194.0,478.0 197.0,469.0 200.0,472.0 203.0,474.0 206.0,467.0 209.0,469.0 212.0,468.5 215.0,460.0 218.0,465.0 221.0,466.0 224.0,469.5 228.0,459.0 231.0,461.0 234.5,466.0 238.0,468.0 240.0,474.0 242.0,487.0 245.0,477.0 248.0,479.0 251.0,471.0 254.0,481.0 260.0,482.0 263.0,483.5 266.0,480.0 272.0,472.0 275.0,468.0 278.0,471.0 281.0,474.0 284.0,467.0 287.0,474.0 291.0,474.0 295.0,471.0 298.0,466.0 301.0,471.0 304.0,463.0 307.5,446.0 310.0,467.0 313.0,466.0 316.0,470.0 320.0,476.0 324.0,478.0 328.0,479.0 331.5,473.0 334.5,483.0 338.0,489.0 341.0,489.5 344.0,483.0 347.0,491.0 352.0,498.0 355.0,497.0 360.0,495.0 364.0,497.0 367.5,508.0 370.0,497.0 373.0,493.0 376.0,504.0 380.0,498.0 385.0,498.0 390.0,496.0 394.0,488.0 398.0,493.0 400.0,500.0 404.7,503.0 407.0,515.7 412.5,495.4 417.0,503.0 422.0,497.0 428.0,492.0 431.0,492.0 436.0,497.0 440.0,516.0 445.0,504.8 450.0,506.0 454.6,512.5 460.0,504.0 464.0,508.0 470.0,500.0 473.0,500.0 479.6,511.6 482.7,509.4 487.4,500.0 490.5,509.4 493.6,521.0 496.7,509.0 500.5,489.8 504.5,489.0 507.7,493.8 512.0,493.8 517.0,498.5 519.0,508.0 522.0,489.0 525.0,501.6 528.0,489.0 532.6,498.5 537.0,493.8 540.4,498.5 543.5,506.0 548.0,489.0 552.0,474.0 555.0,487.6 559.0,492.0 564.0,489.0 568.5,484.5 571.0,489.0 573.0,501.6 576.0,484.5 579.4,483.0 584.0,492.0 588.0,469.0 591.0,475.0 595.0,480.0 598.0,489.0 603.0,497.0 607.5,495.0 612.0,497.0 615.0,501.6 619.7,485.0 623.7,486.0 627.0,489.8 630.0,489.0 633.0,484.5 636.0,489.8 639.0,486.0 642.5,482.0 645.6,490.7 648.7,490.7 651.8,475.0 654.6,487.6 657.0,476.7 661.0,478.0 663.4,471.0 668.0,469.0 672.0,462.6 674.0,478.0 679.0,484.5 683.6,490.7 688.0,473.5 693.0,472.0 697.7,479.8 702.0,484.5 705.5,465.7 708.0,493.0 711.7,467.0 714.0,465.7 717.0,473.5 722.6,473.5 727.0,471.0 730.5,476.7 734.5,494.0 738.0,490.7 743.0,481.0 746.0,492.0 750.7,501.6 755.4,487.6 760.0,489.0 764.8,500.0 769.5,509.4 775.7,508.0 779.5,512.5 785.0,508.0 788.8,514.0 794.4,509.4 799.0,511.0 805.0,520.0 810.0,524.0 827.0,524.0 830.0,519.6 834.0,522.7 840.0,523.7 848.0,521.7 852.0,523.7 856.0,517.6 860.0,517.6 865.5,521.7 869.5,523.7 872.6,515.6 875.6,519.6 878.7,523.3 886.8,521.7 890.8,521.7 895.0,523.7 899.0,518.6 902.6,511.5 906.0,517.6 911.0,522.7 915.0,522.7 918.0,519.6 922.0,520.0 926.3,518.6 929.4,522.7 935.4,521.7 940.5,524.0 948.6,523.7 951.7,513.5 957.7,512.0 960.8,519.6 963.8,524.0 980.0,524.0 986.0,521.7 989.0,519.6 992.0,513.5 994.6,517.6 997.3,511.0 1001.3,515.6 1004.4,517.6 1008.4,517.6 1012.5,522.7 1016.5,517.6 1021.6,514.6 1024.6,516.6 1027.7,523.7 1030.7,520.6 1033.8,523.3 1036.8,522.7 1039.4,516.6 1041.9,522.7 1045.0,524.0" fill="none" stroke="#000" stroke-width="2.2" stroke-linejoin="round"/>
<polyline points="189.0,429.5 194.3,429.5 197.0,417.5 200.0,429.5 206.5,405.5 209.6,429.5 212.0,405.5 215.5,405.5 218.0,417.5 221.0,405.5 224.5,417.5 227.5,405.5 231.0,393.5 233.5,393.5 236.5,429.5 239.6,393.5 242.6,429.5 246.0,405.5 251.0,405.5 254.5,441.5 257.0,429.5 260.6,429.5 263.5,453.5 266.7,441.5 269.6,393.5 273.0,417.5 275.7,417.5 278.0,405.5 281.0,417.5 284.5,405.5 288.0,420.0 291.0,429.5 294.0,429.5 296.6,417.5 299.0,429.5 304.0,429.5 307.5,369.5 310.0,393.5 316.0,417.5 319.5,441.5 322.0,429.5 325.0,429.5 328.6,453.5 331.5,405.5 334.5,441.5 337.6,465.5 340.5,453.5 343.0,453.5 346.5,465.5 352.0,477.5 355.0,465.5 361.0,465.5 367.5,489.5 373.0,465.5 377.0,477.5 385.0,477.5 389.0,465.5 394.0,465.5 398.0,477.5 401.0,477.5 405.3,499.0 412.5,477.5 417.0,489.5 422.0,477.5 428.0,465.5 430.6,477.5 433.4,465.5 435.0,473.5 440.0,503.0 445.0,489.5 450.0,489.5 454.6,501.5 460.0,477.5 465.5,489.5 472.4,465.5 479.6,501.5 485.8,477.5 489.0,477.5 493.6,501.5 499.0,477.5 503.0,438.0 505.0,429.5 509.0,465.5 513.0,453.5 517.0,477.5 522.0,441.5 525.0,453.5 528.0,441.5 532.6,465.5 535.7,453.5 539.5,453.5 543.5,477.5 550.0,441.5 555.0,441.5 560.0,465.5 562.0,465.5 568.5,441.5 573.0,453.5 579.4,429.5 584.0,453.5 588.8,405.5 593.0,429.5 595.0,441.5 601.0,441.5 603.0,453.5 606.0,429.5 609.7,465.5 613.0,441.5 615.0,453.5 619.7,441.5 623.7,429.5 627.0,441.5 630.0,453.5 633.0,417.5 636.0,441.5 639.0,436.0 642.5,429.5 645.6,441.5 648.7,453.5 651.8,417.5 654.6,453.5 657.0,441.5 661.0,441.5 663.4,405.5 666.5,417.5 669.0,417.5 672.0,405.5 675.9,429.5 679.0,441.5 681.5,453.5 687.4,429.5 691.5,441.5 696.0,417.5 699.0,441.5 702.0,441.5 705.5,417.5 708.6,453.5 711.7,417.5 714.9,405.5 717.0,412.0 720.5,405.5 723.6,417.5 726.7,417.5 730.5,429.5 733.0,441.5 734.5,465.5 738.0,453.5 743.0,441.5 746.0,453.5 749.8,477.5 752.0,465.5 755.4,465.5 758.5,441.5 761.7,453.5 764.8,477.5 769.5,489.5 775.7,489.5 779.5,501.5 785.0,477.5 788.8,501.5 791.0,489.5 794.4,501.5 805.0,501.5 809.0,513.5 840.0,513.5 841.0,525.5 845.0,513.5 848.0,513.5 850.0,525.5 853.0,525.5 857.4,501.5 860.0,501.5 864.5,513.5 868.5,513.5 872.6,501.5 875.0,501.5 878.7,513.5 896.0,513.5 900.0,501.5 905.0,501.5 910.0,513.5 913.0,513.5 917.0,501.5 920.0,513.5 927.0,513.5 928.7,521.6 930.5,521.6 932.4,501.5 936.5,525.5 940.5,525.5 942.5,513.5 946.6,525.5 949.6,501.5 958.7,501.5 964.8,525.5 967.9,513.5 988.0,513.5 992.0,501.5 1006.4,501.5 1010.5,513.5 1015.5,513.5 1019.6,501.5 1021.6,499.0 1024.0,489.5 1026.7,513.5 1035.8,513.5 1039.4,501.5 1043.0,513.5 1045.3,513.5" fill="none" stroke="#000080" stroke-width="1" />
<rect x="187" y="75" width="862" height="2" fill="#808080"/>
<rect x="187" y="75" width="2" height="452" fill="#808080"/>
<rect x="1045" y="76" width="1" height="451" fill="#808080"/>
<rect x="1047" y="76" width="2" height="451" fill="#808080"/>
<rect x="187" y="525" width="862" height="2" fill="#808080"/>
<line x1="188" y1="525.5" x2="1045" y2="525.5" stroke="#0ff" stroke-width="1" stroke-dasharray="1 2"/>
<rect x="188" y="527" width="1" height="4" fill="#808080"/>
<g fill="#000"><use href="#g0" x="176" y="536"/><use href="#g0" x="182" y="536"/><use href="#gc" x="188" y="536"/><use href="#g0" x="191" y="536"/><use href="#g0" x="197" y="536"/></g>
<rect x="224" y="527" width="1" height="4" fill="#808080"/>
<g fill="#000"><use href="#g0" x="212" y="536"/><use href="#g1" x="218" y="536"/><use href="#gc" x="224" y="536"/><use href="#g0" x="227" y="536"/><use href="#g0" x="233" y="536"/></g>
<rect x="260" y="527" width="1" height="4" fill="#808080"/>
<g fill="#000"><use href="#g0" x="248" y="536"/><use href="#g2" x="254" y="536"/><use href="#gc" x="260" y="536"/><use href="#g0" x="263" y="536"/><use href="#g0" x="269" y="536"/></g>
<rect x="296" y="527" width="1" height="4" fill="#808080"/>
<g fill="#000"><use href="#g0" x="284" y="536"/><use href="#g3" x="290" y="536"/><use href="#gc" x="296" y="536"/><use href="#g0" x="299" y="536"/><use href="#g0" x="305" y="536"/></g>
<rect x="331" y="527" width="1" height="4" fill="#808080"/>
<g fill="#000"><use href="#g0" x="319" y="536"/><use href="#g4" x="325" y="536"/><use href="#gc" x="331" y="536"/><use href="#g0" x="334" y="536"/><use href="#g0" x="340" y="536"/></g>
<rect x="367" y="527" width="1" height="4" fill="#808080"/>
<g fill="#000"><use href="#g0" x="355" y="536"/><use href="#g5" x="361" y="536"/><use href="#gc" x="367" y="536"/><use href="#g0" x="370" y="536"/><use href="#g0" x="376" y="536"/></g>
<rect x="403" y="527" width="1" height="4" fill="#808080"/>
<g fill="#000"><use href="#g0" x="391" y="536"/><use href="#g6" x="397" y="536"/><use href="#gc" x="403" y="536"/><use href="#g0" x="406" y="536"/><use href="#g0" x="412" y="536"/></g>
<rect x="439" y="527" width="1" height="4" fill="#808080"/>
<g fill="#000"><use href="#g0" x="427" y="536"/><use href="#g7" x="433" y="536"/><use href="#gc" x="439" y="536"/><use href="#g0" x="442" y="536"/><use href="#g0" x="448" y="536"/></g>
<rect x="475" y="527" width="1" height="4" fill="#808080"/>
<g fill="#000"><use href="#g0" x="463" y="536"/><use href="#g8" x="469" y="536"/><use href="#gc" x="475" y="536"/><use href="#g0" x="478" y="536"/><use href="#g0" x="484" y="536"/></g>
<rect x="510" y="527" width="1" height="4" fill="#808080"/>
<g fill="#000"><use href="#g0" x="498" y="536"/><use href="#g9" x="504" y="536"/><use href="#gc" x="510" y="536"/><use href="#g0" x="513" y="536"/><use href="#g0" x="519" y="536"/></g>
<rect x="546" y="527" width="1" height="4" fill="#808080"/>
<g fill="#000"><use href="#g1" x="534" y="536"/><use href="#g0" x="540" y="536"/><use href="#gc" x="546" y="536"/><use href="#g0" x="549" y="536"/><use href="#g0" x="555" y="536"/></g>
<rect x="582" y="527" width="1" height="4" fill="#808080"/>
<g fill="#000"><use href="#g1" x="570" y="536"/><use href="#g1" x="576" y="536"/><use href="#gc" x="582" y="536"/><use href="#g0" x="585" y="536"/><use href="#g0" x="591" y="536"/></g>
<rect x="618" y="527" width="1" height="4" fill="#808080"/>
<g fill="#000"><use href="#g1" x="606" y="536"/><use href="#g2" x="612" y="536"/><use href="#gc" x="618" y="536"/><use href="#g0" x="621" y="536"/><use href="#g0" x="627" y="536"/></g>
<rect x="654" y="527" width="1" height="4" fill="#808080"/>
<g fill="#000"><use href="#g1" x="642" y="536"/><use href="#g3" x="648" y="536"/><use href="#gc" x="654" y="536"/><use href="#g0" x="657" y="536"/><use href="#g0" x="663" y="536"/></g>
<rect x="690" y="527" width="1" height="4" fill="#808080"/>
<g fill="#000"><use href="#g1" x="678" y="536"/><use href="#g4" x="684" y="536"/><use href="#gc" x="690" y="536"/><use href="#g0" x="693" y="536"/><use href="#g0" x="699" y="536"/></g>
<rect x="725" y="527" width="1" height="4" fill="#808080"/>
<g fill="#000"><use href="#g1" x="713" y="536"/><use href="#g5" x="719" y="536"/><use href="#gc" x="725" y="536"/><use href="#g0" x="728" y="536"/><use href="#g0" x="734" y="536"/></g>
<rect x="761" y="527" width="1" height="4" fill="#808080"/>
<g fill="#000"><use href="#g1" x="749" y="536"/><use href="#g6" x="755" y="536"/><use href="#gc" x="761" y="536"/><use href="#g0" x="764" y="536"/><use href="#g0" x="770" y="536"/></g>
<rect x="797" y="527" width="1" height="4" fill="#808080"/>
<g fill="#000"><use href="#g1" x="785" y="536"/><use href="#g7" x="791" y="536"/><use href="#gc" x="797" y="536"/><use href="#g0" x="800" y="536"/><use href="#g0" x="806" y="536"/></g>
<rect x="833" y="527" width="1" height="4" fill="#808080"/>
<g fill="#000"><use href="#g1" x="821" y="536"/><use href="#g8" x="827" y="536"/><use href="#gc" x="833" y="536"/><use href="#g0" x="836" y="536"/><use href="#g0" x="842" y="536"/></g>
<rect x="869" y="527" width="1" height="4" fill="#808080"/>
<g fill="#000"><use href="#g1" x="857" y="536"/><use href="#g9" x="863" y="536"/><use href="#gc" x="869" y="536"/><use href="#g0" x="872" y="536"/><use href="#g0" x="878" y="536"/></g>
<rect x="905" y="527" width="1" height="4" fill="#808080"/>
<g fill="#000"><use href="#g2" x="893" y="536"/><use href="#g0" x="899" y="536"/><use href="#gc" x="905" y="536"/><use href="#g0" x="908" y="536"/><use href="#g0" x="914" y="536"/></g>
<rect x="940" y="527" width="1" height="4" fill="#808080"/>
<g fill="#000"><use href="#g2" x="928" y="536"/><use href="#g1" x="934" y="536"/><use href="#gc" x="940" y="536"/><use href="#g0" x="943" y="536"/><use href="#g0" x="949" y="536"/></g>
<rect x="976" y="527" width="1" height="4" fill="#808080"/>
<g fill="#000"><use href="#g2" x="964" y="536"/><use href="#g2" x="970" y="536"/><use href="#gc" x="976" y="536"/><use href="#g0" x="979" y="536"/><use href="#g0" x="985" y="536"/></g>
<rect x="1012" y="527" width="1" height="4" fill="#808080"/>
<g fill="#000"><use href="#g2" x="1000" y="536"/><use href="#g3" x="1006" y="536"/><use href="#gc" x="1012" y="536"/><use href="#g0" x="1015" y="536"/><use href="#g0" x="1021" y="536"/></g>
<rect x="1048" y="527" width="1" height="4" fill="#808080"/>
<g fill="#000"><use href="#g2" x="1036" y="536"/><use href="#g4" x="1042" y="536"/><use href="#gc" x="1048" y="536"/><use href="#g0" x="1051" y="536"/><use href="#g0" x="1057" y="536"/></g>
<rect x="449" y="524" width="2" height="11" fill="#ff0"/>
<rect x="843" y="526" width="2" height="9" fill="#ff0"/>
<g fill="#000"><use href="#g0" x="417" y="547"/><use href="#g7" x="423" y="547"/><use href="#gc" x="429" y="547"/><use href="#g1" x="432" y="547"/><use href="#g8" x="438" y="547"/></g>
<g fill="#000"><use href="#g1" x="811" y="547"/><use href="#g8" x="817" y="547"/><use href="#gc" x="823" y="547"/><use href="#g1" x="826" y="547"/><use href="#g8" x="832" y="547"/></g>
<g shape-rendering="auto"><circle cx="450" cy="552" r="3.3" fill="#ff0"/><g stroke="#ffff80" stroke-width="1"><line x1="450" y1="545.5" x2="450" y2="558.5"/><line x1="443.5" y1="552" x2="456.5" y2="552"/><line x1="445.5" y1="547.5" x2="454.5" y2="556.5"/><line x1="445.5" y1="556.5" x2="454.5" y2="547.5"/></g><circle cx="450" cy="552" r="3.3" fill="#ff0"/><circle cx="844" cy="552" r="2.8" fill="none" stroke="#ffff60" stroke-width="1"/></g>
<rect x="40" y="76" width="1" height="451" fill="#808080"/>
<rect x="36" y="76" width="8" height="1" fill="#808080"/>
<g fill="#f00"><use href="#g3" x="14" y="72"/><use href="#g0" x="20" y="72"/><use href="#gp" x="26" y="72"/><use href="#g0" x="29" y="72"/></g>
<rect x="36" y="132" width="4" height="1" fill="#808080"/>
<g fill="#f00"><use href="#g2" x="14" y="128"/><use href="#g5" x="20" y="128"/><use href="#gp" x="26" y="128"/><use href="#g0" x="29" y="128"/></g>
<rect x="36" y="188" width="4" height="1" fill="#808080"/>
<g fill="#f00"><use href="#g2" x="14" y="184"/><use href="#g0" x="20" y="184"/><use href="#gp" x="26" y="184"/><use href="#g0" x="29" y="184"/></g>
<rect x="36" y="245" width="4" height="1" fill="#808080"/>
<g fill="#f00"><use href="#g1" x="14" y="241"/><use href="#g5" x="20" y="241"/><use href="#gp" x="26" y="241"/><use href="#g0" x="29" y="241"/></g>
<rect x="36" y="301" width="4" height="1" fill="#808080"/>
<g fill="#f00"><use href="#g1" x="14" y="297"/><use href="#g0" x="20" y="297"/><use href="#gp" x="26" y="297"/><use href="#g0" x="29" y="297"/></g>
<rect x="36" y="357" width="4" height="1" fill="#808080"/>
<g fill="#f00"><use href="#g5" x="20" y="353"/><use href="#gp" x="26" y="353"/><use href="#g0" x="29" y="353"/></g>
<rect x="36" y="414" width="4" height="1" fill="#808080"/>
<g fill="#f00"><use href="#g0" x="20" y="410"/><use href="#gp" x="26" y="410"/><use href="#g0" x="29" y="410"/></g>
<rect x="36" y="470" width="4" height="1" fill="#808080"/>
<g fill="#f00"><use href="#gm" x="16" y="466"/><use href="#g5" x="20" y="466"/><use href="#gp" x="26" y="466"/><use href="#g0" x="29" y="466"/></g>
<rect x="36" y="526" width="8" height="1" fill="#808080"/>
<g fill="#f00"><use href="#gm" x="10" y="522"/><use href="#g1" x="14" y="522"/><use href="#g0" x="20" y="522"/><use href="#gp" x="26" y="522"/><use href="#g0" x="29" y="522"/></g>
<rect x="77" y="76" width="1" height="451" fill="#808080"/>
<rect x="73" y="76" width="8" height="1" fill="#808080"/>
<g fill="#00f"><use href="#g2" x="54" y="72"/><use href="#g0" x="60" y="72"/><use href="#g0" x="66" y="72"/></g>
<rect x="73" y="98" width="4" height="1" fill="#808080"/>
<g fill="#00f"><use href="#g1" x="54" y="94"/><use href="#g9" x="60" y="94"/><use href="#g0" x="66" y="94"/></g>
<rect x="73" y="121" width="4" height="1" fill="#808080"/>
<g fill="#00f"><use href="#g1" x="54" y="117"/><use href="#g8" x="60" y="117"/><use href="#g0" x="66" y="117"/></g>
<rect x="73" y="144" width="4" height="1" fill="#808080"/>
<g fill="#00f"><use href="#g1" x="54" y="140"/><use href="#g7" x="60" y="140"/><use href="#g0" x="66" y="140"/></g>
<rect x="73" y="166" width="4" height="1" fill="#808080"/>
<g fill="#00f"><use href="#g1" x="54" y="162"/><use href="#g6" x="60" y="162"/><use href="#g0" x="66" y="162"/></g>
<rect x="73" y="188" width="4" height="1" fill="#808080"/>
<g fill="#00f"><use href="#g1" x="54" y="184"/><use href="#g5" x="60" y="184"/><use href="#g0" x="66" y="184"/></g>
<rect x="73" y="211" width="4" height="1" fill="#808080"/>
<g fill="#00f"><use href="#g1" x="54" y="207"/><use href="#g4" x="60" y="207"/><use href="#g0" x="66" y="207"/></g>
<rect x="73" y="234" width="4" height="1" fill="#808080"/>
<g fill="#00f"><use href="#g1" x="54" y="230"/><use href="#g3" x="60" y="230"/><use href="#g0" x="66" y="230"/></g>
<rect x="73" y="256" width="4" height="1" fill="#808080"/>
<g fill="#00f"><use href="#g1" x="54" y="252"/><use href="#g2" x="60" y="252"/><use href="#g0" x="66" y="252"/></g>
<rect x="73" y="278" width="4" height="1" fill="#808080"/>
<g fill="#00f"><use href="#g1" x="54" y="274"/><use href="#g1" x="60" y="274"/><use href="#g0" x="66" y="274"/></g>
<rect x="73" y="301" width="4" height="1" fill="#808080"/>
<g fill="#00f"><use href="#g1" x="54" y="297"/><use href="#g0" x="60" y="297"/><use href="#g0" x="66" y="297"/></g>
<rect x="73" y="324" width="4" height="1" fill="#808080"/>
<g fill="#00f"><use href="#g9" x="60" y="320"/><use href="#g0" x="66" y="320"/></g>
<rect x="73" y="346" width="4" height="1" fill="#808080"/>
<g fill="#00f"><use href="#g8" x="60" y="342"/><use href="#g0" x="66" y="342"/></g>
<rect x="73" y="368" width="4" height="1" fill="#808080"/>
<g fill="#00f"><use href="#g7" x="60" y="364"/><use href="#g0" x="66" y="364"/></g>
<rect x="73" y="391" width="4" height="1" fill="#808080"/>
<g fill="#00f"><use href="#g6" x="60" y="387"/><use href="#g0" x="66" y="387"/></g>
<rect x="73" y="414" width="4" height="1" fill="#808080"/>
<g fill="#00f"><use href="#g5" x="60" y="410"/><use href="#g0" x="66" y="410"/></g>
<rect x="73" y="436" width="4" height="1" fill="#808080"/>
<g fill="#00f"><use href="#g4" x="60" y="432"/><use href="#g0" x="66" y="432"/></g>
<rect x="73" y="458" width="4" height="1" fill="#808080"/>
<g fill="#00f"><use href="#g3" x="60" y="454"/><use href="#g0" x="66" y="454"/></g>
<rect x="73" y="481" width="4" height="1" fill="#808080"/>
<g fill="#00f"><use href="#g2" x="60" y="477"/><use href="#g0" x="66" y="477"/></g>
<rect x="73" y="504" width="4" height="1" fill="#808080"/>
<g fill="#00f"><use href="#g1" x="60" y="500"/><use href="#g0" x="66" y="500"/></g>
<rect x="73" y="526" width="8" height="1" fill="#808080"/>
<g fill="#00f"><use href="#g0" x="66" y="522"/></g>
<rect x="151" y="76" width="1" height="451" fill="#808080"/>
<rect x="147" y="76" width="8" height="1" fill="#808080"/>
<rect x="147" y="114" width="4" height="1" fill="#808080"/>
<g fill="#808080"><use href="#g3" x="128" y="110"/><use href="#g3" x="134" y="110"/><use href="#g0" x="140" y="110"/></g>
<rect x="147" y="151" width="4" height="1" fill="#808080"/>
<g fill="#808080"><use href="#g3" x="128" y="147"/><use href="#g0" x="134" y="147"/><use href="#g0" x="140" y="147"/></g>
<rect x="147" y="188" width="4" height="1" fill="#808080"/>
<rect x="147" y="226" width="4" height="1" fill="#808080"/>
<g fill="#808080"><use href="#g2" x="128" y="222"/><use href="#g4" x="134" y="222"/><use href="#g0" x="140" y="222"/></g>
<rect x="147" y="264" width="4" height="1" fill="#808080"/>
<g fill="#808080"><use href="#g2" x="128" y="260"/><use href="#g1" x="134" y="260"/><use href="#g0" x="140" y="260"/></g>
<rect x="147" y="301" width="4" height="1" fill="#808080"/>
<rect x="147" y="338" width="4" height="1" fill="#808080"/>
<g fill="#808080"><use href="#g1" x="128" y="334"/><use href="#g5" x="134" y="334"/><use href="#g0" x="140" y="334"/></g>
<rect x="147" y="376" width="4" height="1" fill="#808080"/>
<g fill="#808080"><use href="#g1" x="128" y="372"/><use href="#g2" x="134" y="372"/><use href="#g0" x="140" y="372"/></g>
<rect x="147" y="414" width="4" height="1" fill="#808080"/>
<rect x="147" y="451" width="4" height="1" fill="#808080"/>
<g fill="#808080"><use href="#g6" x="134" y="447"/><use href="#g0" x="140" y="447"/></g>
<rect x="147" y="488" width="4" height="1" fill="#808080"/>
<g fill="#808080"><use href="#g3" x="134" y="484"/><use href="#g0" x="140" y="484"/></g>
<rect x="147" y="526" width="8" height="1" fill="#808080"/>
<rect x="114" y="76" width="1" height="451" fill="#808080"/>
<rect x="110" y="76" width="8" height="1" fill="#808080"/>
<g fill="#0ff"><use href="#g5" x="94" y="72"/><use href="#gp" x="100" y="72"/><use href="#g0" x="103" y="72"/></g>
<rect x="110" y="166" width="4" height="1" fill="#808080"/>
<g fill="#0ff"><use href="#g4" x="94" y="162"/><use href="#gp" x="100" y="162"/><use href="#g0" x="103" y="162"/></g>
<rect x="110" y="256" width="4" height="1" fill="#808080"/>
<g fill="#0ff"><use href="#g3" x="94" y="252"/><use href="#gp" x="100" y="252"/><use href="#g0" x="103" y="252"/></g>
<rect x="110" y="346" width="4" height="1" fill="#808080"/>
<g fill="#0ff"><use href="#g2" x="94" y="342"/><use href="#gp" x="100" y="342"/><use href="#g0" x="103" y="342"/></g>
<rect x="110" y="436" width="4" height="1" fill="#808080"/>
<g fill="#0ff"><use href="#g1" x="94" y="432"/><use href="#gp" x="100" y="432"/><use href="#g0" x="103" y="432"/></g>
<rect x="110" y="526" width="8" height="1" fill="#808080"/>
<g fill="#0ff"><use href="#g0" x="94" y="522"/><use href="#gp" x="100" y="522"/><use href="#g0" x="103" y="522"/></g>
<rect x="184" y="76" width="4" height="1" fill="#808080"/>
<g fill="#f0f"><use href="#g1" x="162" y="72"/><use href="#g0" x="168" y="72"/><use href="#gp" x="174" y="72"/><use href="#g0" x="177" y="72"/></g>
<rect x="184" y="121" width="4" height="1" fill="#808080"/>
<g fill="#f0f"><use href="#g9" x="168" y="117"/><use href="#gp" x="174" y="117"/><use href="#g0" x="177" y="117"/></g>
<rect x="184" y="166" width="4" height="1" fill="#808080"/>
<g fill="#f0f"><use href="#g8" x="168" y="162"/><use href="#gp" x="174" y="162"/><use href="#g0" x="177" y="162"/></g>
<rect x="184" y="211" width="4" height="1" fill="#808080"/>
<g fill="#f0f"><use href="#g7" x="168" y="207"/><use href="#gp" x="174" y="207"/><use href="#g0" x="177" y="207"/></g>
<rect x="184" y="256" width="4" height="1" fill="#808080"/>
<g fill="#f0f"><use href="#g6" x="168" y="252"/><use href="#gp" x="174" y="252"/><use href="#g0" x="177" y="252"/></g>
<rect x="184" y="301" width="4" height="1" fill="#808080"/>
<g fill="#f0f"><use href="#g5" x="168" y="297"/><use href="#gp" x="174" y="297"/><use href="#g0" x="177" y="297"/></g>
<rect x="184" y="346" width="4" height="1" fill="#808080"/>
<g fill="#f0f"><use href="#g4" x="168" y="342"/><use href="#gp" x="174" y="342"/><use href="#g0" x="177" y="342"/></g>
<rect x="184" y="391" width="4" height="1" fill="#808080"/>
<g fill="#f0f"><use href="#g3" x="168" y="387"/><use href="#gp" x="174" y="387"/><use href="#g0" x="177" y="387"/></g>
<rect x="184" y="436" width="4" height="1" fill="#808080"/>
<g fill="#f0f"><use href="#g2" x="168" y="432"/><use href="#gp" x="174" y="432"/><use href="#g0" x="177" y="432"/></g>
<rect x="184" y="481" width="4" height="1" fill="#808080"/>
<g fill="#f0f"><use href="#g1" x="168" y="477"/><use href="#gp" x="174" y="477"/><use href="#g0" x="177" y="477"/></g>
<rect x="184" y="526" width="4" height="1" fill="#808080"/>
<g fill="#f0f"><use href="#g0" x="168" y="522"/><use href="#gp" x="174" y="522"/><use href="#g0" x="177" y="522"/></g>
<rect x="1049" y="76" width="4" height="1" fill="#808080"/>
<g fill="#00f"><use href="#g1" x="1055" y="72"/><use href="#g0" x="1061" y="72"/><use href="#g0" x="1067" y="72"/></g>
<rect x="1049" y="121" width="4" height="1" fill="#808080"/>
<g fill="#00f"><use href="#g9" x="1055" y="117"/><use href="#g0" x="1061" y="117"/></g>
<rect x="1049" y="166" width="4" height="1" fill="#808080"/>
<g fill="#00f"><use href="#g8" x="1055" y="162"/><use href="#g0" x="1061" y="162"/></g>
<rect x="1049" y="211" width="4" height="1" fill="#808080"/>
<g fill="#00f"><use href="#g7" x="1055" y="207"/><use href="#g0" x="1061" y="207"/></g>
<rect x="1049" y="256" width="4" height="1" fill="#808080"/>
<g fill="#00f"><use href="#g6" x="1055" y="252"/><use href="#g0" x="1061" y="252"/></g>
<rect x="1049" y="301" width="4" height="1" fill="#808080"/>
<g fill="#00f"><use href="#g5" x="1055" y="297"/><use href="#g0" x="1061" y="297"/></g>
<rect x="1049" y="346" width="4" height="1" fill="#808080"/>
<g fill="#00f"><use href="#g4" x="1055" y="342"/><use href="#g0" x="1061" y="342"/></g>
<rect x="1049" y="391" width="4" height="1" fill="#808080"/>
<g fill="#00f"><use href="#g3" x="1055" y="387"/><use href="#g0" x="1061" y="387"/></g>
<rect x="1049" y="436" width="4" height="1" fill="#808080"/>
<g fill="#00f"><use href="#g2" x="1055" y="432"/><use href="#g0" x="1061" y="432"/></g>
<rect x="1049" y="481" width="4" height="1" fill="#808080"/>
<g fill="#00f"><use href="#g1" x="1055" y="477"/><use href="#g0" x="1061" y="477"/></g>
<rect x="1049" y="526" width="4" height="1" fill="#808080"/>
<g fill="#00f"><use href="#g0" x="1055" y="522"/></g>
<g fill="#00f"><use href="#gq" x="1049" y="56"/></g>
<rect x="1085" y="76" width="1" height="451" fill="#808080"/>
<rect x="1081" y="76" width="9" height="1" fill="#808080"/>
<g fill="#0f0"><use href="#g1" x="1092" y="72"/><use href="#g0" x="1098" y="72"/><use href="#g3" x="1104" y="72"/><use href="#g0" x="1110" y="72"/></g>
<rect x="1086" y="132" width="4" height="1" fill="#808080"/>
<g fill="#0f0"><use href="#g1" x="1092" y="128"/><use href="#g0" x="1098" y="128"/><use href="#g2" x="1104" y="128"/><use href="#g5" x="1110" y="128"/></g>
<rect x="1086" y="188" width="4" height="1" fill="#808080"/>
<g fill="#0f0"><use href="#g1" x="1092" y="184"/><use href="#g0" x="1098" y="184"/><use href="#g2" x="1104" y="184"/><use href="#g0" x="1110" y="184"/></g>
<rect x="1086" y="245" width="4" height="1" fill="#808080"/>
<g fill="#0f0"><use href="#g1" x="1092" y="241"/><use href="#g0" x="1098" y="241"/><use href="#g1" x="1104" y="241"/><use href="#g5" x="1110" y="241"/></g>
<rect x="1086" y="301" width="4" height="1" fill="#808080"/>
<g fill="#0f0"><use href="#g1" x="1092" y="297"/><use href="#g0" x="1098" y="297"/><use href="#g1" x="1104" y="297"/><use href="#g0" x="1110" y="297"/></g>
<rect x="1086" y="357" width="4" height="1" fill="#808080"/>
<g fill="#0f0"><use href="#g1" x="1092" y="353"/><use href="#g0" x="1098" y="353"/><use href="#g0" x="1104" y="353"/><use href="#g5" x="1110" y="353"/></g>
<rect x="1086" y="414" width="4" height="1" fill="#808080"/>
<g fill="#0f0"><use href="#g1" x="1092" y="410"/><use href="#g0" x="1098" y="410"/><use href="#g0" x="1104" y="410"/><use href="#g0" x="1110" y="410"/></g>
<rect x="1086" y="470" width="4" height="1" fill="#808080"/>
<g fill="#0f0"><use href="#g9" x="1092" y="466"/><use href="#g9" x="1098" y="466"/><use href="#g5" x="1104" y="466"/></g>
<rect x="1081" y="526" width="9" height="1" fill="#808080"/>
<g fill="#0f0"><use href="#g9" x="1092" y="522"/><use href="#g9" x="1098" y="522"/><use href="#g0" x="1104" y="522"/></g>
<rect x="1122" y="76" width="1" height="451" fill="#808080"/>
<rect x="1118" y="76" width="9" height="1" fill="#808080"/>
<g fill="#000"><use href="#g6" x="1129" y="72"/><use href="#g0" x="1135" y="72"/><use href="#gp" x="1141" y="72"/><use href="#g0" x="1144" y="72"/></g>
<rect x="1123" y="114" width="4" height="1" fill="#808080"/>
<g fill="#000"><use href="#g5" x="1129" y="110"/><use href="#g5" x="1135" y="110"/><use href="#gp" x="1141" y="110"/><use href="#g0" x="1144" y="110"/></g>
<rect x="1123" y="151" width="4" height="1" fill="#808080"/>
<g fill="#000"><use href="#g5" x="1129" y="147"/><use href="#g0" x="1135" y="147"/><use href="#gp" x="1141" y="147"/><use href="#g0" x="1144" y="147"/></g>
<rect x="1123" y="188" width="4" height="1" fill="#808080"/>
<g fill="#000"><use href="#g4" x="1129" y="184"/><use href="#g5" x="1135" y="184"/><use href="#gp" x="1141" y="184"/><use href="#g0" x="1144" y="184"/></g>
<rect x="1123" y="226" width="4" height="1" fill="#808080"/>
<g fill="#000"><use href="#g4" x="1129" y="222"/><use href="#g0" x="1135" y="222"/><use href="#gp" x="1141" y="222"/><use href="#g0" x="1144" y="222"/></g>
<rect x="1123" y="264" width="4" height="1" fill="#808080"/>
<g fill="#000"><use href="#g3" x="1129" y="260"/><use href="#g5" x="1135" y="260"/><use href="#gp" x="1141" y="260"/><use href="#g0" x="1144" y="260"/></g>
<rect x="1123" y="301" width="4" height="1" fill="#808080"/>
<g fill="#000"><use href="#g3" x="1129" y="297"/><use href="#g0" x="1135" y="297"/><use href="#gp" x="1141" y="297"/><use href="#g0" x="1144" y="297"/></g>
<rect x="1123" y="338" width="4" height="1" fill="#808080"/>
<g fill="#000"><use href="#g2" x="1129" y="334"/><use href="#g5" x="1135" y="334"/><use href="#gp" x="1141" y="334"/><use href="#g0" x="1144" y="334"/></g>
<rect x="1123" y="376" width="4" height="1" fill="#808080"/>
<g fill="#000"><use href="#g2" x="1129" y="372"/><use href="#g0" x="1135" y="372"/><use href="#gp" x="1141" y="372"/><use href="#g0" x="1144" y="372"/></g>
<rect x="1123" y="414" width="4" height="1" fill="#808080"/>
<g fill="#000"><use href="#g1" x="1129" y="410"/><use href="#g5" x="1135" y="410"/><use href="#gp" x="1141" y="410"/><use href="#g0" x="1144" y="410"/></g>
<rect x="1123" y="451" width="4" height="1" fill="#808080"/>
<g fill="#000"><use href="#g1" x="1129" y="447"/><use href="#g0" x="1135" y="447"/><use href="#gp" x="1141" y="447"/><use href="#g0" x="1144" y="447"/></g>
<rect x="1123" y="488" width="4" height="1" fill="#808080"/>
<g fill="#000"><use href="#g5" x="1129" y="484"/><use href="#gp" x="1135" y="484"/><use href="#g0" x="1138" y="484"/></g>
<rect x="1118" y="526" width="9" height="1" fill="#808080"/>
<g fill="#000"><use href="#g0" x="1129" y="522"/><use href="#gp" x="1135" y="522"/><use href="#g0" x="1138" y="522"/></g>
<rect x="1159" y="76" width="1" height="451" fill="#808080"/>
<rect x="1155" y="76" width="9" height="1" fill="#808080"/>
<g fill="#ff0"><use href="#g1" x="1166" y="72"/><use href="#g0" x="1172" y="72"/><use href="#g0" x="1178" y="72"/></g>
<rect x="1160" y="121" width="4" height="1" fill="#808080"/>
<g fill="#ff0"><use href="#g9" x="1166" y="117"/><use href="#g0" x="1172" y="117"/></g>
<rect x="1160" y="166" width="4" height="1" fill="#808080"/>
<g fill="#ff0"><use href="#g8" x="1166" y="162"/><use href="#g0" x="1172" y="162"/></g>
<rect x="1160" y="211" width="4" height="1" fill="#808080"/>
<g fill="#ff0"><use href="#g7" x="1166" y="207"/><use href="#g0" x="1172" y="207"/></g>
<rect x="1160" y="256" width="4" height="1" fill="#808080"/>
<g fill="#ff0"><use href="#g6" x="1166" y="252"/><use href="#g0" x="1172" y="252"/></g>
<rect x="1160" y="301" width="4" height="1" fill="#808080"/>
<g fill="#ff0"><use href="#g5" x="1166" y="297"/><use href="#g0" x="1172" y="297"/></g>
<rect x="1160" y="346" width="4" height="1" fill="#808080"/>
<g fill="#ff0"><use href="#g4" x="1166" y="342"/><use href="#g0" x="1172" y="342"/></g>
<rect x="1160" y="391" width="4" height="1" fill="#808080"/>
<g fill="#ff0"><use href="#g3" x="1166" y="387"/><use href="#g0" x="1172" y="387"/></g>
<rect x="1160" y="436" width="4" height="1" fill="#808080"/>
<g fill="#ff0"><use href="#g2" x="1166" y="432"/><use href="#g0" x="1172" y="432"/></g>
<rect x="1160" y="481" width="4" height="1" fill="#808080"/>
<g fill="#ff0"><use href="#g1" x="1166" y="477"/><use href="#g0" x="1172" y="477"/></g>
<rect x="1155" y="526" width="9" height="1" fill="#808080"/>
<g fill="#ff0"><use href="#g0" x="1166" y="522"/></g>
<rect x="1196" y="76" width="1" height="451" fill="#808080"/>
<rect x="1192" y="76" width="9" height="1" fill="#808080"/>
<g fill="#ff8080"><use href="#g1" x="1202" y="72"/><use href="#g2" x="1208" y="72"/><use href="#g0" x="1214" y="72"/><use href="#g0" x="1220" y="72"/></g>
<rect x="1197" y="95" width="4" height="1" fill="#808080"/>
<g fill="#ff8080"><use href="#g1" x="1202" y="91"/><use href="#g1" x="1208" y="91"/><use href="#g5" x="1214" y="91"/><use href="#g0" x="1220" y="91"/></g>
<rect x="1197" y="114" width="4" height="1" fill="#808080"/>
<g fill="#ff8080"><use href="#g1" x="1202" y="110"/><use href="#g1" x="1208" y="110"/><use href="#g0" x="1214" y="110"/><use href="#g0" x="1220" y="110"/></g>
<rect x="1197" y="132" width="4" height="1" fill="#808080"/>
<g fill="#ff8080"><use href="#g1" x="1202" y="128"/><use href="#g0" x="1208" y="128"/><use href="#g5" x="1214" y="128"/><use href="#g0" x="1220" y="128"/></g>
<rect x="1197" y="151" width="4" height="1" fill="#808080"/>
<g fill="#ff8080"><use href="#g1" x="1202" y="147"/><use href="#g0" x="1208" y="147"/><use href="#g0" x="1214" y="147"/><use href="#g0" x="1220" y="147"/></g>
<rect x="1197" y="170" width="4" height="1" fill="#808080"/>
<g fill="#ff8080"><use href="#g9" x="1202" y="166"/><use href="#g5" x="1208" y="166"/><use href="#g0" x="1214" y="166"/></g>
<rect x="1197" y="188" width="4" height="1" fill="#808080"/>
<g fill="#ff8080"><use href="#g9" x="1202" y="184"/><use href="#g0" x="1208" y="184"/><use href="#g0" x="1214" y="184"/></g>
<rect x="1197" y="207" width="4" height="1" fill="#808080"/>
<g fill="#ff8080"><use href="#g8" x="1202" y="203"/><use href="#g5" x="1208" y="203"/><use href="#g0" x="1214" y="203"/></g>
<rect x="1197" y="226" width="4" height="1" fill="#808080"/>
<g fill="#ff8080"><use href="#g8" x="1202" y="222"/><use href="#g0" x="1208" y="222"/><use href="#g0" x="1214" y="222"/></g>
<rect x="1197" y="245" width="4" height="1" fill="#808080"/>
<g fill="#ff8080"><use href="#g7" x="1202" y="241"/><use href="#g5" x="1208" y="241"/><use href="#g0" x="1214" y="241"/></g>
<rect x="1197" y="264" width="4" height="1" fill="#808080"/>
<g fill="#ff8080"><use href="#g7" x="1202" y="260"/><use href="#g0" x="1208" y="260"/><use href="#g0" x="1214" y="260"/></g>
<rect x="1197" y="282" width="4" height="1" fill="#808080"/>
<g fill="#ff8080"><use href="#g6" x="1202" y="278"/><use href="#g5" x="1208" y="278"/><use href="#g0" x="1214" y="278"/></g>
<rect x="1197" y="301" width="4" height="1" fill="#808080"/>
<g fill="#ff8080"><use href="#g6" x="1202" y="297"/><use href="#g0" x="1208" y="297"/><use href="#g0" x="1214" y="297"/></g>
<rect x="1197" y="320" width="4" height="1" fill="#808080"/>
<g fill="#ff8080"><use href="#g5" x="1202" y="316"/><use href="#g5" x="1208" y="316"/><use href="#g0" x="1214" y="316"/></g>
<rect x="1197" y="338" width="4" height="1" fill="#808080"/>
<g fill="#ff8080"><use href="#g5" x="1202" y="334"/><use href="#g0" x="1208" y="334"/><use href="#g0" x="1214" y="334"/></g>
<rect x="1197" y="357" width="4" height="1" fill="#808080"/>
<g fill="#ff8080"><use href="#g4" x="1202" y="353"/><use href="#g5" x="1208" y="353"/><use href="#g0" x="1214" y="353"/></g>
<rect x="1197" y="376" width="4" height="1" fill="#808080"/>
<g fill="#ff8080"><use href="#g4" x="1202" y="372"/><use href="#g0" x="1208" y="372"/><use href="#g0" x="1214" y="372"/></g>
<rect x="1197" y="395" width="4" height="1" fill="#808080"/>
<g fill="#ff8080"><use href="#g3" x="1202" y="391"/><use href="#g5" x="1208" y="391"/><use href="#g0" x="1214" y="391"/></g>
<rect x="1197" y="414" width="4" height="1" fill="#808080"/>
<g fill="#ff8080"><use href="#g3" x="1202" y="410"/><use href="#g0" x="1208" y="410"/><use href="#g0" x="1214" y="410"/></g>
<rect x="1197" y="432" width="4" height="1" fill="#808080"/>
<g fill="#ff8080"><use href="#g2" x="1202" y="428"/><use href="#g5" x="1208" y="428"/><use href="#g0" x="1214" y="428"/></g>
<rect x="1197" y="451" width="4" height="1" fill="#808080"/>
<g fill="#ff8080"><use href="#g2" x="1202" y="447"/><use href="#g0" x="1208" y="447"/><use href="#g0" x="1214" y="447"/></g>
<rect x="1197" y="470" width="4" height="1" fill="#808080"/>
<g fill="#ff8080"><use href="#g1" x="1202" y="466"/><use href="#g5" x="1208" y="466"/><use href="#g0" x="1214" y="466"/></g>
<rect x="1197" y="488" width="4" height="1" fill="#808080"/>
<g fill="#ff8080"><use href="#g1" x="1202" y="484"/><use href="#g0" x="1208" y="484"/><use href="#g0" x="1214" y="484"/></g>
<rect x="1197" y="507" width="4" height="1" fill="#808080"/>
<g fill="#ff8080"><use href="#g5" x="1202" y="503"/><use href="#g0" x="1208" y="503"/></g>
<rect x="1192" y="526" width="9" height="1" fill="#808080"/>
<g fill="#ff8080"><use href="#g0" x="1202" y="522"/></g>
<clipPath id="cp"><rect x="1242" y="50" width="4" height="400"/></clipPath><g clip-path="url(#cp)"><g filter="url(#cr)">
<text x="1245.5" y="66" fill="#0f0" text-anchor="end">0</text>
<text x="1245.5" y="121" fill="#0f0" text-anchor="end">5</text>
<text x="1245.5" y="176" fill="#0f0" text-anchor="end">0</text>
<text x="1245.5" y="232" fill="#0f0" text-anchor="end">5</text>
<text x="1245.5" y="287" fill="#0f0" text-anchor="end">0</text>
<text x="1245.5" y="342" fill="#0f0" text-anchor="end">5</text>
<text x="1245.5" y="397" fill="#0f0" text-anchor="end">0</text>
</g></g>
<rect x="1247" y="61" width="3" height="1" fill="#808080"/>
<rect x="1247" y="502" width="3" height="1" fill="#808080"/>
<rect x="1" y="561" width="1240" height="80" fill="#ccfaf7"/>
<rect x="1241" y="560" width="1" height="81" fill="#999"/>
<rect x="1242" y="537" width="8" height="90" fill="#ccfaf7"/>
<rect x="1242" y="627" width="8" height="1" fill="#999"/>
<rect x="1242" y="628" width="8" height="13" fill="#fff"/>
<rect x="1243" y="629" width="7" height="12" fill="#999"/>
<rect x="1245" y="631" width="5" height="10" fill="#eee"/>
<rect x="87" y="561" width="1" height="80" fill="#fff"/>
<rect x="88" y="561" width="1" height="80" fill="#969090"/>
<rect x="89" y="561" width="1" height="80" fill="#d6fffd"/>
<rect x="204" y="561" width="1" height="80" fill="#fff"/>
<rect x="205" y="561" width="1" height="80" fill="#969090"/>
<rect x="206" y="561" width="1" height="80" fill="#d6fffd"/>
<rect x="322" y="561" width="1" height="80" fill="#fff"/>
<rect x="323" y="561" width="1" height="80" fill="#969090"/>
<rect x="324" y="561" width="1" height="80" fill="#d6fffd"/>
<rect x="440" y="561" width="1" height="80" fill="#fff"/>
<rect x="441" y="561" width="1" height="80" fill="#969090"/>
<rect x="442" y="561" width="1" height="80" fill="#d6fffd"/>
<rect x="558" y="561" width="1" height="80" fill="#fff"/>
<rect x="559" y="561" width="1" height="80" fill="#969090"/>
<rect x="560" y="561" width="1" height="80" fill="#d6fffd"/>
<rect x="676" y="561" width="1" height="80" fill="#fff"/>
<rect x="677" y="561" width="1" height="80" fill="#969090"/>
<rect x="678" y="561" width="1" height="80" fill="#d6fffd"/>
<rect x="795" y="561" width="1" height="80" fill="#fff"/>
<rect x="796" y="561" width="1" height="80" fill="#969090"/>
<rect x="797" y="561" width="1" height="80" fill="#d6fffd"/>
<rect x="912" y="561" width="1" height="80" fill="#fff"/>
<rect x="913" y="561" width="1" height="80" fill="#969090"/>
<rect x="914" y="561" width="1" height="80" fill="#d6fffd"/>
<g fill="#000"><use href="#b1" x="9" y="634"/><use href="#b0" x="16" y="634"/><use href="#bp" x="23" y="634"/><use href="#b1" x="27" y="634"/><use href="#b0" x="34" y="634"/><use href="#bp" x="41" y="634"/><use href="#b2" x="48" y="634"/><use href="#b3" x="55" y="634"/><use href="#bc" x="62" y="634"/><use href="#b5" x="66" y="634"/><use href="#b5" x="73" y="634"/></g>
<g fill="#000"><use href="#g0" x="101" y="586"/><use href="#g7" x="107" y="586"/><use href="#gc" x="113" y="586"/><use href="#g3" x="116" y="586"/><use href="#g0" x="122" y="586"/></g>
<g fill="#000"><use href="#g1" x="178" y="586"/><use href="#g2" x="184" y="586"/><use href="#gp" x="190" y="586"/><use href="#g8" x="193" y="586"/></g>
<g fill="#000"><use href="#g1" x="101" y="602"/><use href="#g5" x="107" y="602"/><use href="#gc" x="113" y="602"/><use href="#g1" x="116" y="602"/><use href="#g5" x="122" y="602"/></g>
<g fill="#000"><use href="#g1" x="178" y="602"/><use href="#g8" x="184" y="602"/><use href="#gp" x="190" y="602"/><use href="#g8" x="193" y="602"/></g>
<g fill="#000"><use href="#g1" x="172" y="618"/><use href="#g5" x="178" y="618"/><use href="#gp" x="184" y="618"/><use href="#g8" x="187" y="618"/><use href="#g7" x="193" y="618"/></g>
<g fill="#000"><use href="#b1" x="174" y="634"/><use href="#b4" x="181" y="634"/><use href="#bp" x="188" y="634"/><use href="#b0" x="192" y="634"/></g>
<g fill="#000"><use href="#bq" x="308" y="570"/></g>
<g fill="#000"><use href="#g1" x="219" y="586"/><use href="#g5" x="225" y="586"/><use href="#gc" x="231" y="586"/><use href="#g2" x="234" y="586"/><use href="#g5" x="240" y="586"/></g>
<g fill="#000"><use href="#g6" x="305" y="586"/><use href="#g9" x="311" y="586"/></g>
<g fill="#000"><use href="#g0" x="219" y="602"/><use href="#g8" x="225" y="602"/><use href="#gc" x="231" y="602"/><use href="#g2" x="234" y="602"/><use href="#g5" x="240" y="602"/></g>
<g fill="#000"><use href="#g9" x="305" y="602"/><use href="#g6" x="311" y="602"/></g>
<g fill="#000"><use href="#g8" x="305" y="618"/><use href="#g6" x="311" y="618"/></g>
<g fill="#000"><use href="#b9" x="303" y="634"/><use href="#b1" x="310" y="634"/></g>
<g fill="#000"><use href="#g0" x="336" y="586"/><use href="#g0" x="342" y="586"/><use href="#gc" x="348" y="586"/><use href="#g2" x="351" y="586"/><use href="#g0" x="357" y="586"/></g>
<g fill="#000"><use href="#g1" x="402" y="586"/><use href="#g0" x="408" y="586"/><use href="#g0" x="414" y="586"/><use href="#g9" x="420" y="586"/><use href="#gp" x="426" y="586"/><use href="#g9" x="429" y="586"/></g>
<g fill="#000"><use href="#g2" x="336" y="602"/><use href="#g3" x="342" y="602"/><use href="#gc" x="348" y="602"/><use href="#g1" x="351" y="602"/><use href="#g5" x="357" y="602"/></g>
<g fill="#000"><use href="#g1" x="402" y="602"/><use href="#g0" x="408" y="602"/><use href="#g1" x="414" y="602"/><use href="#g6" x="420" y="602"/><use href="#gp" x="426" y="602"/><use href="#g6" x="429" y="602"/></g>
<g fill="#000"><use href="#g1" x="402" y="618"/><use href="#g0" x="408" y="618"/><use href="#g1" x="414" y="618"/><use href="#g4" x="420" y="618"/><use href="#gp" x="426" y="618"/><use href="#g1" x="429" y="618"/></g>
<g fill="#000"><use href="#b1" x="396" y="634"/><use href="#b0" x="403" y="634"/><use href="#b1" x="410" y="634"/><use href="#b6" x="417" y="634"/><use href="#bp" x="424" y="634"/><use href="#b2" x="428" y="634"/></g>
<g fill="#000"><use href="#g0" x="538" y="586"/><use href="#gp" x="544" y="586"/><use href="#g2" x="547" y="586"/></g>
<g fill="#000"><use href="#g0" x="454" y="602"/><use href="#g3" x="460" y="602"/><use href="#gc" x="466" y="602"/><use href="#g2" x="469" y="602"/><use href="#g0" x="475" y="602"/></g>
<g fill="#000"><use href="#g3" x="538" y="618"/><use href="#gp" x="544" y="618"/><use href="#g8" x="547" y="618"/></g>
<g fill="#000"><use href="#b0" x="535" y="634"/><use href="#bp" x="542" y="634"/><use href="#b1" x="546" y="634"/></g>
<g fill="#000"><use href="#g1" x="656" y="586"/><use href="#gp" x="662" y="586"/><use href="#g6" x="665" y="586"/></g>
<g fill="#000"><use href="#g0" x="572" y="602"/><use href="#g3" x="578" y="602"/><use href="#gc" x="584" y="602"/><use href="#g2" x="587" y="602"/><use href="#g0" x="593" y="602"/></g>
<g fill="#000"><use href="#g7" x="656" y="618"/><use href="#gp" x="662" y="618"/><use href="#g9" x="665" y="618"/></g>
<g fill="#000"><use href="#b1" x="653" y="634"/><use href="#bp" x="660" y="634"/><use href="#b6" x="664" y="634"/></g>
<g fill="#000"><use href="#g2" x="691" y="602"/><use href="#g3" x="697" y="602"/><use href="#gc" x="703" y="602"/><use href="#g5" x="706" y="602"/><use href="#g5" x="712" y="602"/></g>
<g fill="#000"><use href="#g0" x="774" y="602"/><use href="#gp" x="780" y="602"/><use href="#g0" x="783" y="602"/></g>
<g fill="#000"><use href="#g0" x="774" y="618"/><use href="#gp" x="780" y="618"/><use href="#g0" x="783" y="618"/></g>
<g fill="#000"><use href="#b0" x="771" y="634"/><use href="#bp" x="778" y="634"/><use href="#b0" x="782" y="634"/></g>
<g fill="#000"><use href="#g2" x="808" y="586"/><use href="#g3" x="814" y="586"/><use href="#gc" x="820" y="586"/><use href="#g5" x="823" y="586"/><use href="#g5" x="829" y="586"/></g>
<g fill="#000"><use href="#g0" x="892" y="586"/><use href="#gp" x="898" y="586"/><use href="#g0" x="901" y="586"/></g>
<g fill="#000"><use href="#g1" x="808" y="602"/><use href="#g1" x="814" y="602"/><use href="#gc" x="820" y="602"/><use href="#g1" x="823" y="602"/><use href="#g0" x="829" y="602"/></g>
<g fill="#000"><use href="#g1" x="892" y="602"/><use href="#gp" x="898" y="602"/><use href="#g4" x="901" y="602"/></g>
<g fill="#000"><use href="#g1" x="892" y="618"/><use href="#gp" x="898" y="618"/><use href="#g0" x="901" y="618"/></g>
<g fill="#000"><use href="#b0" x="889" y="634"/><use href="#bp" x="896" y="634"/><use href="#b0" x="900" y="634"/></g>
<g fill="#000"><use href="#gm" x="986" y="586"/><use href="#g4" x="990" y="586"/><use href="#g3" x="996" y="586"/><use href="#gp" x="1002" y="586"/><use href="#g2" x="1005" y="586"/><use href="#g1" x="1011" y="586"/><use href="#g6" x="1017" y="586"/></g>
<g fill="#000"><use href="#g1" x="926" y="602"/><use href="#g0" x="932" y="602"/><use href="#gc" x="938" y="602"/><use href="#g2" x="941" y="602"/><use href="#g5" x="947" y="602"/></g>
<g fill="#000"><use href="#g4" x="1005" y="602"/><use href="#g8" x="1011" y="602"/><use href="#g7" x="1017" y="602"/></g>
<g fill="#000"><use href="#g1" x="1005" y="618"/><use href="#g6" x="1011" y="618"/><use href="#g4" x="1017" y="618"/></g>
<g fill="#000"><use href="#b0" x="1016" y="634"/></g>
<g filter="url(#cr)">
<text x="623.2" y="21" fill="#000" text-anchor="middle" textLength="136.5" lengthAdjust="spacingAndGlyphs" font-size="16">Freitag, 10.10.2014</text>
<text x="212.3" y="42" fill="#f00" textLength="46.5" lengthAdjust="spacingAndGlyphs">Temp. 2m</text>
<text x="307.3" y="42" fill="#f00" textLength="57" lengthAdjust="spacingAndGlyphs">Temp. 5cm*</text>
<text x="402.3" y="42" fill="#f00" textLength="72.5" lengthAdjust="spacingAndGlyphs">BodenTemp 10</text>
<text x="497.3" y="42" fill="#f00" textLength="72.5" lengthAdjust="spacingAndGlyphs">BodenTemp 25</text>
<text x="592.3" y="42" fill="#f00" textLength="72.5" lengthAdjust="spacingAndGlyphs">BodenTemp 50</text>
<text x="687.3" y="42" fill="#f00" textLength="72.5" lengthAdjust="spacingAndGlyphs">BodenTemp 80</text>
<text x="782.3" y="42" fill="#00f" textLength="59.5" lengthAdjust="spacingAndGlyphs">Feuchte 2m*</text>
<text x="877.3" y="42" fill="#00f" textLength="66.6" lengthAdjust="spacingAndGlyphs">Bod.Feucht10</text>
<text x="972.3" y="42" fill="#00f" textLength="66.6" lengthAdjust="spacingAndGlyphs">Bod.Feucht25</text>
<text x="212.3" y="56" fill="#00f" textLength="66.6" lengthAdjust="spacingAndGlyphs">Bod.Feucht50</text>
<text x="307.3" y="56" fill="#00f" textLength="66.6" lengthAdjust="spacingAndGlyphs">Bod.Feucht80</text>
<text x="402.3" y="56" fill="#0f0" textLength="44.5" lengthAdjust="spacingAndGlyphs">Luftdruck</text>
<text x="497.3" y="56" fill="#0ff" textLength="31" lengthAdjust="spacingAndGlyphs">Regen</text>
<text x="592.3" y="56" fill="#000" textLength="25" lengthAdjust="spacingAndGlyphs">Wind</text>
<text x="687.3" y="56" fill="#808080" textLength="42" lengthAdjust="spacingAndGlyphs">Richtung</text>
<text x="782.3" y="56" fill="#ff0" textLength="67" lengthAdjust="spacingAndGlyphs">Sonnenschein</text>
<text x="877.3" y="56" fill="#f0f" textLength="14" lengthAdjust="spacingAndGlyphs">UV</text>
<text x="972.3" y="56" fill="#ff8080" textLength="24" lengthAdjust="spacingAndGlyphs">Solar</text>
<text x="212.3" y="70" fill="#000" textLength="48.5" lengthAdjust="spacingAndGlyphs">Windböen</text>
<text x="25" y="65" fill="#f00" text-anchor="middle" textLength="10.5" lengthAdjust="spacingAndGlyphs">°C</text>
<text x="61.2" y="65" fill="#00f" text-anchor="middle" textLength="11.7" lengthAdjust="spacingAndGlyphs">cb</text>
<text x="144.8" y="81" fill="#808080" text-anchor="end" textLength="27.3" lengthAdjust="spacingAndGlyphs">360 N</text>
<text x="144.8" y="193" fill="#808080" text-anchor="end" textLength="30.5" lengthAdjust="spacingAndGlyphs">270 W</text>
<text x="144.8" y="306" fill="#808080" text-anchor="end" textLength="26.3" lengthAdjust="spacingAndGlyphs">180 S</text>
<text x="144.8" y="419" fill="#808080" text-anchor="end" textLength="23.6" lengthAdjust="spacingAndGlyphs">90  O</text>
<text x="144.8" y="531" fill="#808080" text-anchor="end" textLength="25.3" lengthAdjust="spacingAndGlyphs">0   N</text>
<text x="139.5" y="65" fill="#808080" text-anchor="middle">°</text>
<text x="95.2" y="65" fill="#0ff" text-anchor="middle" textLength="17.4" lengthAdjust="spacingAndGlyphs">l/m²</text>
<text x="167.5" y="65" fill="#f0f" text-anchor="middle" textLength="19.5" lengthAdjust="spacingAndGlyphs">UV-I</text>
<text x="1085.6" y="65" fill="#0f0" textLength="18.4" lengthAdjust="spacingAndGlyphs">hPa</text>
<text x="1122.7" y="65" fill="#000" textLength="24.6" lengthAdjust="spacingAndGlyphs">km/h</text>
<text x="1159.6" y="65" fill="#ff0" textLength="15.6" lengthAdjust="spacingAndGlyphs">min</text>
<text x="1196.3" y="65" fill="#ff8080" textLength="26.8" lengthAdjust="spacingAndGlyphs">W/m²</text>
<text x="9" y="579" fill="#000" font-weight="bold" textLength="38" lengthAdjust="spacingAndGlyphs">Sensor</text>
<text x="9" y="595" fill="#000" font-weight="bold" textLength="46" lengthAdjust="spacingAndGlyphs">MinWert</text>
<text x="9" y="611" fill="#000" font-weight="bold" textLength="49" lengthAdjust="spacingAndGlyphs">MaxWert</text>
<text x="9" y="627" fill="#000" font-weight="bold" textLength="71" lengthAdjust="spacingAndGlyphs">Durchschnitt</text>
<text x="95.2" y="579" fill="#000" font-weight="bold" textLength="54" lengthAdjust="spacingAndGlyphs">Temp. 2m</text>
<text x="198.4" y="579" fill="#000" text-anchor="end" font-weight="bold" textLength="12.8" lengthAdjust="spacingAndGlyphs">°C</text>
<text x="212.5" y="579" fill="#000" font-weight="bold" textLength="65.3" lengthAdjust="spacingAndGlyphs">Feuchte 2m</text>
<text x="215.8" y="643" fill="#000" textLength="51.7" lengthAdjust="spacingAndGlyphs">10.99 g/m³</text>
<text x="330" y="579" fill="#000" font-weight="bold" textLength="53.5" lengthAdjust="spacingAndGlyphs">Luftdruck</text>
<text x="434" y="579" fill="#000" text-anchor="end" font-weight="bold" textLength="21.5" lengthAdjust="spacingAndGlyphs">hPa</text>
<text x="330" y="627" fill="#000" textLength="51" lengthAdjust="spacingAndGlyphs">^1.0hPa/h</text>
<text x="330" y="643" fill="#000" textLength="31" lengthAdjust="spacingAndGlyphs">sonnig</text>
<text x="448.5" y="579" fill="#000" font-weight="bold" textLength="29" lengthAdjust="spacingAndGlyphs">Wind</text>
<text x="552.5" y="579" fill="#000" text-anchor="end" font-weight="bold" textLength="29" lengthAdjust="spacingAndGlyphs">km/h</text>
<text x="448.5" y="595" fill="#000" textLength="44" lengthAdjust="spacingAndGlyphs">Ø 10 min.</text>
<text x="552.5" y="611" fill="#000" text-anchor="end" textLength="35" lengthAdjust="spacingAndGlyphs">W 10.8</text>
<text x="454" y="627" fill="#000" textLength="44.5" lengthAdjust="spacingAndGlyphs">188.9 km</text>
<text x="454" y="643" fill="#000" textLength="57" lengthAdjust="spacingAndGlyphs">0 Bft W-SW</text>
<text x="566" y="579" fill="#000" font-weight="bold" textLength="57.5" lengthAdjust="spacingAndGlyphs">Windböen</text>
<text x="670" y="579" fill="#000" text-anchor="end" font-weight="bold" textLength="28.5" lengthAdjust="spacingAndGlyphs">km/h</text>
<text x="566" y="595" fill="#000" textLength="44" lengthAdjust="spacingAndGlyphs">Ø 10 min.</text>
<text x="670" y="611" fill="#000" text-anchor="end" textLength="35" lengthAdjust="spacingAndGlyphs">W 20.9</text>
<text x="572.5" y="627" fill="#000" textLength="44.5" lengthAdjust="spacingAndGlyphs">188.9 km</text>
<text x="572.5" y="643" fill="#000" textLength="57" lengthAdjust="spacingAndGlyphs">1 Bft W-SW</text>
<text x="685" y="579" fill="#000" font-weight="bold" textLength="36.5" lengthAdjust="spacingAndGlyphs">Regen</text>
<text x="788.5" y="579" fill="#000" text-anchor="end" font-weight="bold" textLength="22" lengthAdjust="spacingAndGlyphs">l/m²</text>
<text x="685" y="627" fill="#000" textLength="37.5" lengthAdjust="spacingAndGlyphs">Gesamt:</text>
<text x="688.5" y="643" fill="#000" textLength="35" lengthAdjust="spacingAndGlyphs">0.0 l/m²</text>
<text x="802.5" y="579" fill="#000" font-weight="bold" textLength="16.5" lengthAdjust="spacingAndGlyphs">UV</text>
<text x="906" y="579" fill="#000" text-anchor="end" font-weight="bold" textLength="26" lengthAdjust="spacingAndGlyphs">UV-I</text>
<text x="921" y="579" fill="#000" font-weight="bold" textLength="28" lengthAdjust="spacingAndGlyphs">Solar</text>
<text x="1022.5" y="579" fill="#000" text-anchor="end" font-weight="bold" textLength="32.5" lengthAdjust="spacingAndGlyphs">W/m²</text>
<text x="921" y="595" fill="#000" textLength="43" lengthAdjust="spacingAndGlyphs">Elevation</text>
<text x="921" y="627" fill="#000" textLength="29" lengthAdjust="spacingAndGlyphs">2:35 h</text>
<text x="921" y="643" fill="#000" textLength="31.5" lengthAdjust="spacingAndGlyphs">dunkel</text>
</g>
</svg>
</body></html>
